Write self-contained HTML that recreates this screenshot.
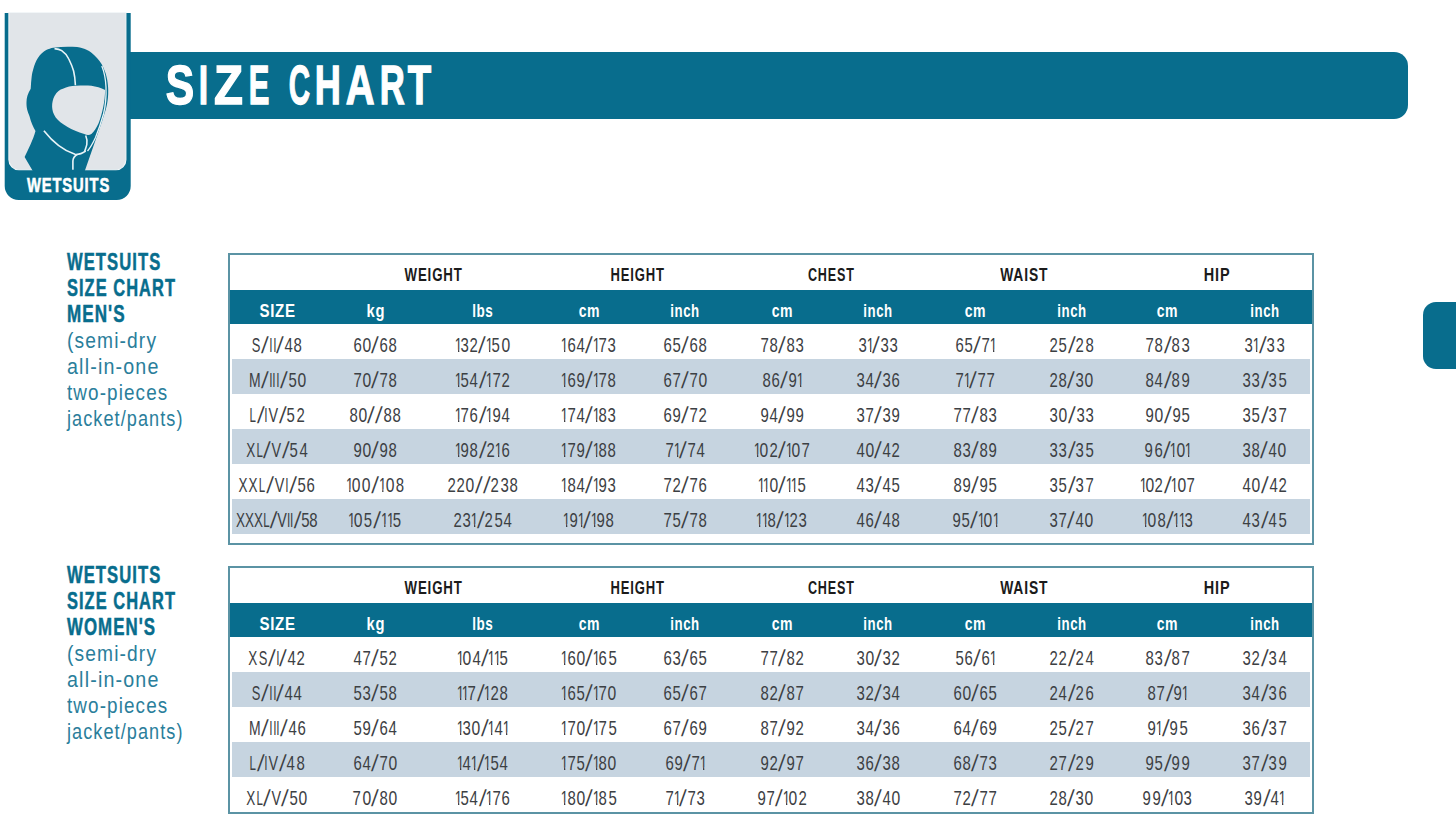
<!DOCTYPE html>
<html><head><meta charset="utf-8"><title>Wetsuits Size Chart</title>
<style>
html,body{margin:0;padding:0;background:#fff;}
body{width:1456px;height:840px;position:relative;overflow:hidden;font-family:"Liberation Sans",sans-serif;}
.t{position:absolute;white-space:nowrap;line-height:1;color:#3c4043;}
.c{position:absolute;white-space:nowrap;line-height:1;font-size:21px;color:#3c4043;}
.c i{display:inline-block;font-style:normal;overflow:visible;}
.banner{position:absolute;left:120px;top:52px;width:1288.2px;height:66.8px;background:#086d8d;border-radius:0 14px 14px 0;}
.tab{position:absolute;left:1422.9px;top:302px;width:60px;height:66.7px;background:#086d8d;border-radius:13px;}
.logo{position:absolute;left:0;top:0;}
.tb{position:absolute;left:228px;width:1086px;box-sizing:border-box;border:2px solid #5b93a4;background:#fff;}
.hd{position:absolute;left:230px;width:1082px;background:#086d8d;}
.gr{position:absolute;left:231.8px;width:1078.6px;background:#c6d4e0;}
</style></head><body>
<div class="banner"></div>
<div class="tab"></div>
<svg class="logo" width="140" height="210" viewBox="0 0 140 210">
<path d="M4.7 13 H130.7 V186 A14 14 0 0 1 116.7 200 H18.7 A14 14 0 0 1 4.7 186 Z" fill="#086d8d"/>
<path d="M8.9 12.5 H125.9 V159.8 A10 10 0 0 1 115.9 169.8 H18.9 A10 10 0 0 1 8.9 159.8 Z" fill="#e1e5e9" stroke="#f2f6f8" stroke-width="1.1"/>
<path d="M53.3 47.7 C62 46.5 70 46.5 77.1 47.1 C85 48.5 90 51 94.3 55.3 C98.5 59.5 101.5 63 103.3 67.4 C105.7 73 106.6 76 107.1 79.3 C107.9 84 108.2 87 108.2 90 C108.3 96 107.8 100 107 104.3 C105.4 112 103.7 116 102.2 121 L84.6 171.5 H33.1 L24.6 157 C28 150 33 140 35.5 131 C33 127 31 122 29.5 116.2 C27.5 111 26.3 108 26.5 102 C26.6 98 27.5 94 30.7 88.8 C31 85 31 83 31.3 80.5 C31.8 76 32 73 33.1 69.8 C34.5 64 36 61 37.9 57.9 C40.5 54 43 52 46.2 50.1 C48.5 49 51 48 53.3 47.7 Z" fill="#086d8d"/>
<path d="M54.5 96 C57 91.5 60 89.5 62.9 88.8 C67 86.8 71 86 76 85.8 C82 85.3 87 85.3 91.4 85.8 C96 86.5 101 88 105.1 90 C105 96 104.5 101 103.3 106.7 C102 113 100.5 118 98.6 123.3 C96.5 128 94 131.5 91.4 134 C89 135.5 86.5 135 84.3 134 C78 132 72 129.5 67.6 126.9 C62 123.5 58 120.5 55.7 117.4 C53 113.5 52.3 110 52.1 106.7 C52 102.5 53 99 54.5 96 Z" fill="#e1e5e9"/>
<path d="M54.5 48.6 C57.5 48.8 60 49.5 61.7 50.7 C65 53 67.5 56 68.8 59 C71 63.5 72.5 67 73.6 71 C74.8 76 75.2 80 75.4 85.2" stroke="#e8f4f8" stroke-width="1.6" fill="none"/>
<path d="M43.9 130.7 C52 141 62 150 75 154.3 C79 155 82 153.5 85.7 151" stroke="#e8f4f8" stroke-width="1.6" fill="none"/>
<path d="M85.7 135.5 C87.2 139 87.3 142 86.8 144.6 C86.2 147 85.5 149 84.6 151.5" stroke="#e8f4f8" stroke-width="1.6" fill="none"/>
<path d="M77.5 154.3 C74.5 156 73 158 72.9 161 V169.8" stroke="#e8f4f8" stroke-width="1.6" fill="none"/>
<path d="M101.8 66 C104.3 72 105.6 79 106 87 C106.4 97 105.5 106 103.5 114 C101.5 121 99 129 95.5 137.5 C93 143 90.5 147.5 87.5 151" stroke="#e8f4f8" stroke-width="1.3" fill="none"/>
</svg>
<div class="tb" style="top:253px;height:292.18px"></div>
<div class="hd" style="top:289.5px;height:34.50px"></div>
<div class="gr" style="top:358.93px;height:34.93px"></div>
<div class="gr" style="top:428.79px;height:34.93px"></div>
<div class="gr" style="top:498.65px;height:34.93px"></div>
<div class="t" style="left:393.30px;top:266.25px;font-size:18.6px;font-weight:bold;color:#1b1b1b;letter-spacing:1.2px;transform:scaleX(0.7127);transform-origin:40.20px 0;">WEIGHT</div>
<div class="t" style="left:599.17px;top:266.25px;font-size:18.6px;font-weight:bold;color:#1b1b1b;letter-spacing:1.2px;transform:scaleX(0.7015);transform-origin:38.13px 0;">HEIGHT</div>
<div class="t" style="left:796.57px;top:266.25px;font-size:18.6px;font-weight:bold;color:#1b1b1b;letter-spacing:1.2px;transform:scaleX(0.6779);transform-origin:33.93px 0;">CHEST</div>
<div class="t" style="left:991.64px;top:266.25px;font-size:18.6px;font-weight:bold;color:#1b1b1b;letter-spacing:1.2px;transform:scaleX(0.7439);transform-origin:31.86px 0;">WAIST</div>
<div class="t" style="left:1199.89px;top:266.25px;font-size:18.6px;font-weight:bold;color:#1b1b1b;letter-spacing:1.2px;transform:scaleX(0.7781);transform-origin:16.71px 0;">HIP</div>
<div class="t" style="left:254.69px;top:300.81px;font-size:19.0px;font-weight:bold;color:#ffffff;letter-spacing:0.8px;transform:scaleX(0.7932);transform-origin:22.31px 0;">SIZE</div>
<div class="t" style="left:363.51px;top:300.81px;font-size:19.0px;font-weight:bold;color:#ffffff;letter-spacing:0.8px;transform:scaleX(0.7745);transform-origin:11.49px 0;">kg</div>
<div class="t" style="left:467.97px;top:300.81px;font-size:19.0px;font-weight:bold;color:#ffffff;letter-spacing:0.8px;transform:scaleX(0.7090);transform-origin:14.53px 0;">lbs</div>
<div class="t" style="left:574.87px;top:300.81px;font-size:19.0px;font-weight:bold;color:#ffffff;letter-spacing:0.8px;transform:scaleX(0.7397);transform-origin:14.13px 0;">cm</div>
<div class="t" style="left:664.28px;top:300.81px;font-size:19.0px;font-weight:bold;color:#ffffff;letter-spacing:0.8px;transform:scaleX(0.6973);transform-origin:20.72px 0;">inch</div>
<div class="t" style="left:767.87px;top:300.81px;font-size:19.0px;font-weight:bold;color:#ffffff;letter-spacing:0.8px;transform:scaleX(0.7397);transform-origin:14.13px 0;">cm</div>
<div class="t" style="left:857.28px;top:300.81px;font-size:19.0px;font-weight:bold;color:#ffffff;letter-spacing:0.8px;transform:scaleX(0.6973);transform-origin:20.72px 0;">inch</div>
<div class="t" style="left:960.87px;top:300.81px;font-size:19.0px;font-weight:bold;color:#ffffff;letter-spacing:0.8px;transform:scaleX(0.7397);transform-origin:14.13px 0;">cm</div>
<div class="t" style="left:1050.78px;top:300.81px;font-size:19.0px;font-weight:bold;color:#ffffff;letter-spacing:0.8px;transform:scaleX(0.6973);transform-origin:20.72px 0;">inch</div>
<div class="t" style="left:1153.37px;top:300.81px;font-size:19.0px;font-weight:bold;color:#ffffff;letter-spacing:0.8px;transform:scaleX(0.7397);transform-origin:14.13px 0;">cm</div>
<div class="t" style="left:1243.78px;top:300.81px;font-size:19.0px;font-weight:bold;color:#ffffff;letter-spacing:0.8px;transform:scaleX(0.6973);transform-origin:20.72px 0;">inch</div>
<div class="c" style="left:251.40px;top:334.22px"><i style="width:10.0px;text-indent:-2.01px;transform:scaleX(0.614)">S</i><i style="width:7.7px;text-indent:0.91px;transform:scaleY(1.1) skewX(-7deg)">/</i><i style="width:3.7px;text-indent:-1.06px;transform:scaleX(0.566)">I</i><i style="width:3.7px;text-indent:-1.06px;transform:scaleX(0.566)">I</i><i style="width:7.7px;text-indent:0.91px;transform:scaleY(1.1) skewX(-7deg)">/</i><i style="width:9.2px;text-indent:-1.23px;transform:scaleX(0.712)">4</i><i style="width:9.2px;text-indent:-1.23px;transform:scaleX(0.712)">8</i></div>
<div class="c" style="left:352.55px;top:334.22px"><i style="width:9.2px;text-indent:-1.23px;transform:scaleX(0.712)">6</i><i style="width:9.6px;text-indent:-1.03px;transform:scaleX(0.746)">0</i><i style="width:7.7px;text-indent:0.91px;transform:scaleY(1.1) skewX(-7deg)">/</i><i style="width:9.2px;text-indent:-1.23px;transform:scaleX(0.712)">6</i><i style="width:9.2px;text-indent:-1.23px;transform:scaleX(0.712)">8</i></div>
<div class="c" style="left:454.75px;top:334.22px"><i style="width:5.3px;text-indent:-1.93px;transform:scaleX(0.625);clip-path:polygon(-20px -20px,30px -20px,30px 15.51px,5.31px 15.51px,5.31px 40px,3.25px 40px,3.25px 15.51px,-20px 15.51px)">1</i><i style="width:9.2px;text-indent:-1.23px;transform:scaleX(0.712)">3</i><i style="width:9.2px;text-indent:-1.23px;transform:scaleX(0.712)">2</i><i style="width:7.7px;text-indent:0.91px;transform:scaleY(1.1) skewX(-7deg)">/</i><i style="width:5.3px;text-indent:-1.93px;transform:scaleX(0.625);clip-path:polygon(-20px -20px,30px -20px,30px 15.51px,5.31px 15.51px,5.31px 40px,3.25px 40px,3.25px 15.51px,-20px 15.51px)">1</i><i style="width:9.2px;text-indent:-1.23px;transform:scaleX(0.712)">5</i><i style="width:9.6px;text-indent:-1.03px;transform:scaleX(0.746)">0</i></div>
<div class="c" style="left:561.45px;top:334.22px"><i style="width:5.3px;text-indent:-1.93px;transform:scaleX(0.625);clip-path:polygon(-20px -20px,30px -20px,30px 15.51px,5.31px 15.51px,5.31px 40px,3.25px 40px,3.25px 15.51px,-20px 15.51px)">1</i><i style="width:9.2px;text-indent:-1.23px;transform:scaleX(0.712)">6</i><i style="width:9.2px;text-indent:-1.23px;transform:scaleX(0.712)">4</i><i style="width:7.7px;text-indent:0.91px;transform:scaleY(1.1) skewX(-7deg)">/</i><i style="width:5.3px;text-indent:-1.93px;transform:scaleX(0.625);clip-path:polygon(-20px -20px,30px -20px,30px 15.51px,5.31px 15.51px,5.31px 40px,3.25px 40px,3.25px 15.51px,-20px 15.51px)">1</i><i style="width:9.2px;text-indent:-1.23px;transform:scaleX(0.712)">7</i><i style="width:9.2px;text-indent:-1.23px;transform:scaleX(0.712)">3</i></div>
<div class="c" style="left:662.75px;top:334.22px"><i style="width:9.2px;text-indent:-1.23px;transform:scaleX(0.712)">6</i><i style="width:9.2px;text-indent:-1.23px;transform:scaleX(0.712)">5</i><i style="width:7.7px;text-indent:0.91px;transform:scaleY(1.1) skewX(-7deg)">/</i><i style="width:9.2px;text-indent:-1.23px;transform:scaleX(0.712)">6</i><i style="width:9.2px;text-indent:-1.23px;transform:scaleX(0.712)">8</i></div>
<div class="c" style="left:759.75px;top:334.22px"><i style="width:9.2px;text-indent:-1.23px;transform:scaleX(0.712)">7</i><i style="width:9.2px;text-indent:-1.23px;transform:scaleX(0.712)">8</i><i style="width:7.7px;text-indent:0.91px;transform:scaleY(1.1) skewX(-7deg)">/</i><i style="width:9.2px;text-indent:-1.23px;transform:scaleX(0.712)">8</i><i style="width:9.2px;text-indent:-1.23px;transform:scaleX(0.712)">3</i></div>
<div class="c" style="left:857.70px;top:334.22px"><i style="width:9.2px;text-indent:-1.23px;transform:scaleX(0.712)">3</i><i style="width:5.3px;text-indent:-1.93px;transform:scaleX(0.625);clip-path:polygon(-20px -20px,30px -20px,30px 15.51px,5.31px 15.51px,5.31px 40px,3.25px 40px,3.25px 15.51px,-20px 15.51px)">1</i><i style="width:7.7px;text-indent:0.91px;transform:scaleY(1.1) skewX(-7deg)">/</i><i style="width:9.2px;text-indent:-1.23px;transform:scaleX(0.712)">3</i><i style="width:9.2px;text-indent:-1.23px;transform:scaleX(0.712)">3</i></div>
<div class="c" style="left:954.70px;top:334.22px"><i style="width:9.2px;text-indent:-1.23px;transform:scaleX(0.712)">6</i><i style="width:9.2px;text-indent:-1.23px;transform:scaleX(0.712)">5</i><i style="width:7.7px;text-indent:0.91px;transform:scaleY(1.1) skewX(-7deg)">/</i><i style="width:9.2px;text-indent:-1.23px;transform:scaleX(0.712)">7</i><i style="width:5.3px;text-indent:-1.93px;transform:scaleX(0.625);clip-path:polygon(-20px -20px,30px -20px,30px 15.51px,5.31px 15.51px,5.31px 40px,3.25px 40px,3.25px 15.51px,-20px 15.51px)">1</i></div>
<div class="c" style="left:1049.25px;top:334.22px"><i style="width:9.2px;text-indent:-1.23px;transform:scaleX(0.712)">2</i><i style="width:9.2px;text-indent:-1.23px;transform:scaleX(0.712)">5</i><i style="width:7.7px;text-indent:0.91px;transform:scaleY(1.1) skewX(-7deg)">/</i><i style="width:9.2px;text-indent:-1.23px;transform:scaleX(0.712)">2</i><i style="width:9.2px;text-indent:-1.23px;transform:scaleX(0.712)">8</i></div>
<div class="c" style="left:1145.25px;top:334.22px"><i style="width:9.2px;text-indent:-1.23px;transform:scaleX(0.712)">7</i><i style="width:9.2px;text-indent:-1.23px;transform:scaleX(0.712)">8</i><i style="width:7.7px;text-indent:0.91px;transform:scaleY(1.1) skewX(-7deg)">/</i><i style="width:9.2px;text-indent:-1.23px;transform:scaleX(0.712)">8</i><i style="width:9.2px;text-indent:-1.23px;transform:scaleX(0.712)">3</i></div>
<div class="c" style="left:1244.20px;top:334.22px"><i style="width:9.2px;text-indent:-1.23px;transform:scaleX(0.712)">3</i><i style="width:5.3px;text-indent:-1.93px;transform:scaleX(0.625);clip-path:polygon(-20px -20px,30px -20px,30px 15.51px,5.31px 15.51px,5.31px 40px,3.25px 40px,3.25px 15.51px,-20px 15.51px)">1</i><i style="width:7.7px;text-indent:0.91px;transform:scaleY(1.1) skewX(-7deg)">/</i><i style="width:9.2px;text-indent:-1.23px;transform:scaleX(0.712)">3</i><i style="width:9.2px;text-indent:-1.23px;transform:scaleX(0.712)">3</i></div>
<div class="c" style="left:247.60px;top:369.15px"><i style="width:13.5px;text-indent:-1.99px;transform:scaleX(0.664)">M</i><i style="width:7.7px;text-indent:0.91px;transform:scaleY(1.1) skewX(-7deg)">/</i><i style="width:3.7px;text-indent:-1.06px;transform:scaleX(0.566)">I</i><i style="width:3.7px;text-indent:-1.06px;transform:scaleX(0.566)">I</i><i style="width:3.7px;text-indent:-1.06px;transform:scaleX(0.566)">I</i><i style="width:7.7px;text-indent:0.91px;transform:scaleY(1.1) skewX(-7deg)">/</i><i style="width:9.2px;text-indent:-1.23px;transform:scaleX(0.712)">5</i><i style="width:9.6px;text-indent:-1.03px;transform:scaleX(0.746)">0</i></div>
<div class="c" style="left:352.55px;top:369.15px"><i style="width:9.2px;text-indent:-1.23px;transform:scaleX(0.712)">7</i><i style="width:9.6px;text-indent:-1.03px;transform:scaleX(0.746)">0</i><i style="width:7.7px;text-indent:0.91px;transform:scaleY(1.1) skewX(-7deg)">/</i><i style="width:9.2px;text-indent:-1.23px;transform:scaleX(0.712)">7</i><i style="width:9.2px;text-indent:-1.23px;transform:scaleX(0.712)">8</i></div>
<div class="c" style="left:454.95px;top:369.15px"><i style="width:5.3px;text-indent:-1.93px;transform:scaleX(0.625);clip-path:polygon(-20px -20px,30px -20px,30px 15.51px,5.31px 15.51px,5.31px 40px,3.25px 40px,3.25px 15.51px,-20px 15.51px)">1</i><i style="width:9.2px;text-indent:-1.23px;transform:scaleX(0.712)">5</i><i style="width:9.2px;text-indent:-1.23px;transform:scaleX(0.712)">4</i><i style="width:7.7px;text-indent:0.91px;transform:scaleY(1.1) skewX(-7deg)">/</i><i style="width:5.3px;text-indent:-1.93px;transform:scaleX(0.625);clip-path:polygon(-20px -20px,30px -20px,30px 15.51px,5.31px 15.51px,5.31px 40px,3.25px 40px,3.25px 15.51px,-20px 15.51px)">1</i><i style="width:9.2px;text-indent:-1.23px;transform:scaleX(0.712)">7</i><i style="width:9.2px;text-indent:-1.23px;transform:scaleX(0.712)">2</i></div>
<div class="c" style="left:561.45px;top:369.15px"><i style="width:5.3px;text-indent:-1.93px;transform:scaleX(0.625);clip-path:polygon(-20px -20px,30px -20px,30px 15.51px,5.31px 15.51px,5.31px 40px,3.25px 40px,3.25px 15.51px,-20px 15.51px)">1</i><i style="width:9.2px;text-indent:-1.23px;transform:scaleX(0.712)">6</i><i style="width:9.2px;text-indent:-1.23px;transform:scaleX(0.712)">9</i><i style="width:7.7px;text-indent:0.91px;transform:scaleY(1.1) skewX(-7deg)">/</i><i style="width:5.3px;text-indent:-1.93px;transform:scaleX(0.625);clip-path:polygon(-20px -20px,30px -20px,30px 15.51px,5.31px 15.51px,5.31px 40px,3.25px 40px,3.25px 15.51px,-20px 15.51px)">1</i><i style="width:9.2px;text-indent:-1.23px;transform:scaleX(0.712)">7</i><i style="width:9.2px;text-indent:-1.23px;transform:scaleX(0.712)">8</i></div>
<div class="c" style="left:662.55px;top:369.15px"><i style="width:9.2px;text-indent:-1.23px;transform:scaleX(0.712)">6</i><i style="width:9.2px;text-indent:-1.23px;transform:scaleX(0.712)">7</i><i style="width:7.7px;text-indent:0.91px;transform:scaleY(1.1) skewX(-7deg)">/</i><i style="width:9.2px;text-indent:-1.23px;transform:scaleX(0.712)">7</i><i style="width:9.6px;text-indent:-1.03px;transform:scaleX(0.746)">0</i></div>
<div class="c" style="left:761.70px;top:369.15px"><i style="width:9.2px;text-indent:-1.23px;transform:scaleX(0.712)">8</i><i style="width:9.2px;text-indent:-1.23px;transform:scaleX(0.712)">6</i><i style="width:7.7px;text-indent:0.91px;transform:scaleY(1.1) skewX(-7deg)">/</i><i style="width:9.2px;text-indent:-1.23px;transform:scaleX(0.712)">9</i><i style="width:5.3px;text-indent:-1.93px;transform:scaleX(0.625);clip-path:polygon(-20px -20px,30px -20px,30px 15.51px,5.31px 15.51px,5.31px 40px,3.25px 40px,3.25px 15.51px,-20px 15.51px)">1</i></div>
<div class="c" style="left:855.75px;top:369.15px"><i style="width:9.2px;text-indent:-1.23px;transform:scaleX(0.712)">3</i><i style="width:9.2px;text-indent:-1.23px;transform:scaleX(0.712)">4</i><i style="width:7.7px;text-indent:0.91px;transform:scaleY(1.1) skewX(-7deg)">/</i><i style="width:9.2px;text-indent:-1.23px;transform:scaleX(0.712)">3</i><i style="width:9.2px;text-indent:-1.23px;transform:scaleX(0.712)">6</i></div>
<div class="c" style="left:954.70px;top:369.15px"><i style="width:9.2px;text-indent:-1.23px;transform:scaleX(0.712)">7</i><i style="width:5.3px;text-indent:-1.93px;transform:scaleX(0.625);clip-path:polygon(-20px -20px,30px -20px,30px 15.51px,5.31px 15.51px,5.31px 40px,3.25px 40px,3.25px 15.51px,-20px 15.51px)">1</i><i style="width:7.7px;text-indent:0.91px;transform:scaleY(1.1) skewX(-7deg)">/</i><i style="width:9.2px;text-indent:-1.23px;transform:scaleX(0.712)">7</i><i style="width:9.2px;text-indent:-1.23px;transform:scaleX(0.712)">7</i></div>
<div class="c" style="left:1049.05px;top:369.15px"><i style="width:9.2px;text-indent:-1.23px;transform:scaleX(0.712)">2</i><i style="width:9.2px;text-indent:-1.23px;transform:scaleX(0.712)">8</i><i style="width:7.7px;text-indent:0.91px;transform:scaleY(1.1) skewX(-7deg)">/</i><i style="width:9.2px;text-indent:-1.23px;transform:scaleX(0.712)">3</i><i style="width:9.6px;text-indent:-1.03px;transform:scaleX(0.746)">0</i></div>
<div class="c" style="left:1145.25px;top:369.15px"><i style="width:9.2px;text-indent:-1.23px;transform:scaleX(0.712)">8</i><i style="width:9.2px;text-indent:-1.23px;transform:scaleX(0.712)">4</i><i style="width:7.7px;text-indent:0.91px;transform:scaleY(1.1) skewX(-7deg)">/</i><i style="width:9.2px;text-indent:-1.23px;transform:scaleX(0.712)">8</i><i style="width:9.2px;text-indent:-1.23px;transform:scaleX(0.712)">9</i></div>
<div class="c" style="left:1242.25px;top:369.15px"><i style="width:9.2px;text-indent:-1.23px;transform:scaleX(0.712)">3</i><i style="width:9.2px;text-indent:-1.23px;transform:scaleX(0.712)">3</i><i style="width:7.7px;text-indent:0.91px;transform:scaleY(1.1) skewX(-7deg)">/</i><i style="width:9.2px;text-indent:-1.23px;transform:scaleX(0.712)">3</i><i style="width:9.2px;text-indent:-1.23px;transform:scaleX(0.712)">5</i></div>
<div class="c" style="left:249.15px;top:404.08px"><i style="width:7.4px;text-indent:-2.13px;transform:scaleX(0.549)">L</i><i style="width:7.7px;text-indent:0.91px;transform:scaleY(1.1) skewX(-7deg)">/</i><i style="width:3.7px;text-indent:-1.06px;transform:scaleX(0.566)">I</i><i style="width:10.8px;text-indent:-1.61px;transform:scaleX(0.685)">V</i><i style="width:7.7px;text-indent:0.91px;transform:scaleY(1.1) skewX(-7deg)">/</i><i style="width:9.2px;text-indent:-1.23px;transform:scaleX(0.712)">5</i><i style="width:9.2px;text-indent:-1.23px;transform:scaleX(0.712)">2</i></div>
<div class="c" style="left:348.70px;top:404.08px"><i style="width:9.2px;text-indent:-1.23px;transform:scaleX(0.712)">8</i><i style="width:9.6px;text-indent:-1.03px;transform:scaleX(0.746)">0</i><i style="width:7.7px;text-indent:0.91px;transform:scaleY(1.1) skewX(-7deg)">/</i><i style="width:7.7px;text-indent:0.91px;transform:scaleY(1.1) skewX(-7deg)">/</i><i style="width:9.2px;text-indent:-1.23px;transform:scaleX(0.712)">8</i><i style="width:9.2px;text-indent:-1.23px;transform:scaleX(0.712)">8</i></div>
<div class="c" style="left:454.95px;top:404.08px"><i style="width:5.3px;text-indent:-1.93px;transform:scaleX(0.625);clip-path:polygon(-20px -20px,30px -20px,30px 15.51px,5.31px 15.51px,5.31px 40px,3.25px 40px,3.25px 15.51px,-20px 15.51px)">1</i><i style="width:9.2px;text-indent:-1.23px;transform:scaleX(0.712)">7</i><i style="width:9.2px;text-indent:-1.23px;transform:scaleX(0.712)">6</i><i style="width:7.7px;text-indent:0.91px;transform:scaleY(1.1) skewX(-7deg)">/</i><i style="width:5.3px;text-indent:-1.93px;transform:scaleX(0.625);clip-path:polygon(-20px -20px,30px -20px,30px 15.51px,5.31px 15.51px,5.31px 40px,3.25px 40px,3.25px 15.51px,-20px 15.51px)">1</i><i style="width:9.2px;text-indent:-1.23px;transform:scaleX(0.712)">9</i><i style="width:9.2px;text-indent:-1.23px;transform:scaleX(0.712)">4</i></div>
<div class="c" style="left:561.45px;top:404.08px"><i style="width:5.3px;text-indent:-1.93px;transform:scaleX(0.625);clip-path:polygon(-20px -20px,30px -20px,30px 15.51px,5.31px 15.51px,5.31px 40px,3.25px 40px,3.25px 15.51px,-20px 15.51px)">1</i><i style="width:9.2px;text-indent:-1.23px;transform:scaleX(0.712)">7</i><i style="width:9.2px;text-indent:-1.23px;transform:scaleX(0.712)">4</i><i style="width:7.7px;text-indent:0.91px;transform:scaleY(1.1) skewX(-7deg)">/</i><i style="width:5.3px;text-indent:-1.93px;transform:scaleX(0.625);clip-path:polygon(-20px -20px,30px -20px,30px 15.51px,5.31px 15.51px,5.31px 40px,3.25px 40px,3.25px 15.51px,-20px 15.51px)">1</i><i style="width:9.2px;text-indent:-1.23px;transform:scaleX(0.712)">8</i><i style="width:9.2px;text-indent:-1.23px;transform:scaleX(0.712)">3</i></div>
<div class="c" style="left:662.75px;top:404.08px"><i style="width:9.2px;text-indent:-1.23px;transform:scaleX(0.712)">6</i><i style="width:9.2px;text-indent:-1.23px;transform:scaleX(0.712)">9</i><i style="width:7.7px;text-indent:0.91px;transform:scaleY(1.1) skewX(-7deg)">/</i><i style="width:9.2px;text-indent:-1.23px;transform:scaleX(0.712)">7</i><i style="width:9.2px;text-indent:-1.23px;transform:scaleX(0.712)">2</i></div>
<div class="c" style="left:759.75px;top:404.08px"><i style="width:9.2px;text-indent:-1.23px;transform:scaleX(0.712)">9</i><i style="width:9.2px;text-indent:-1.23px;transform:scaleX(0.712)">4</i><i style="width:7.7px;text-indent:0.91px;transform:scaleY(1.1) skewX(-7deg)">/</i><i style="width:9.2px;text-indent:-1.23px;transform:scaleX(0.712)">9</i><i style="width:9.2px;text-indent:-1.23px;transform:scaleX(0.712)">9</i></div>
<div class="c" style="left:855.75px;top:404.08px"><i style="width:9.2px;text-indent:-1.23px;transform:scaleX(0.712)">3</i><i style="width:9.2px;text-indent:-1.23px;transform:scaleX(0.712)">7</i><i style="width:7.7px;text-indent:0.91px;transform:scaleY(1.1) skewX(-7deg)">/</i><i style="width:9.2px;text-indent:-1.23px;transform:scaleX(0.712)">3</i><i style="width:9.2px;text-indent:-1.23px;transform:scaleX(0.712)">9</i></div>
<div class="c" style="left:952.75px;top:404.08px"><i style="width:9.2px;text-indent:-1.23px;transform:scaleX(0.712)">7</i><i style="width:9.2px;text-indent:-1.23px;transform:scaleX(0.712)">7</i><i style="width:7.7px;text-indent:0.91px;transform:scaleY(1.1) skewX(-7deg)">/</i><i style="width:9.2px;text-indent:-1.23px;transform:scaleX(0.712)">8</i><i style="width:9.2px;text-indent:-1.23px;transform:scaleX(0.712)">3</i></div>
<div class="c" style="left:1049.05px;top:404.08px"><i style="width:9.2px;text-indent:-1.23px;transform:scaleX(0.712)">3</i><i style="width:9.6px;text-indent:-1.03px;transform:scaleX(0.746)">0</i><i style="width:7.7px;text-indent:0.91px;transform:scaleY(1.1) skewX(-7deg)">/</i><i style="width:9.2px;text-indent:-1.23px;transform:scaleX(0.712)">3</i><i style="width:9.2px;text-indent:-1.23px;transform:scaleX(0.712)">3</i></div>
<div class="c" style="left:1145.05px;top:404.08px"><i style="width:9.2px;text-indent:-1.23px;transform:scaleX(0.712)">9</i><i style="width:9.6px;text-indent:-1.03px;transform:scaleX(0.746)">0</i><i style="width:7.7px;text-indent:0.91px;transform:scaleY(1.1) skewX(-7deg)">/</i><i style="width:9.2px;text-indent:-1.23px;transform:scaleX(0.712)">9</i><i style="width:9.2px;text-indent:-1.23px;transform:scaleX(0.712)">5</i></div>
<div class="c" style="left:1242.25px;top:404.08px"><i style="width:9.2px;text-indent:-1.23px;transform:scaleX(0.712)">3</i><i style="width:9.2px;text-indent:-1.23px;transform:scaleX(0.712)">5</i><i style="width:7.7px;text-indent:0.91px;transform:scaleY(1.1) skewX(-7deg)">/</i><i style="width:9.2px;text-indent:-1.23px;transform:scaleX(0.712)">3</i><i style="width:9.2px;text-indent:-1.23px;transform:scaleX(0.712)">7</i></div>
<div class="c" style="left:246.20px;top:439.01px"><i style="width:9.6px;text-indent:-2.21px;transform:scaleX(0.642)">X</i><i style="width:7.4px;text-indent:-2.13px;transform:scaleX(0.549)">L</i><i style="width:7.7px;text-indent:0.91px;transform:scaleY(1.1) skewX(-7deg)">/</i><i style="width:10.8px;text-indent:-1.61px;transform:scaleX(0.685)">V</i><i style="width:7.7px;text-indent:0.91px;transform:scaleY(1.1) skewX(-7deg)">/</i><i style="width:9.2px;text-indent:-1.23px;transform:scaleX(0.712)">5</i><i style="width:9.2px;text-indent:-1.23px;transform:scaleX(0.712)">4</i></div>
<div class="c" style="left:352.55px;top:439.01px"><i style="width:9.2px;text-indent:-1.23px;transform:scaleX(0.712)">9</i><i style="width:9.6px;text-indent:-1.03px;transform:scaleX(0.746)">0</i><i style="width:7.7px;text-indent:0.91px;transform:scaleY(1.1) skewX(-7deg)">/</i><i style="width:9.2px;text-indent:-1.23px;transform:scaleX(0.712)">9</i><i style="width:9.2px;text-indent:-1.23px;transform:scaleX(0.712)">8</i></div>
<div class="c" style="left:454.95px;top:439.01px"><i style="width:5.3px;text-indent:-1.93px;transform:scaleX(0.625);clip-path:polygon(-20px -20px,30px -20px,30px 15.51px,5.31px 15.51px,5.31px 40px,3.25px 40px,3.25px 15.51px,-20px 15.51px)">1</i><i style="width:9.2px;text-indent:-1.23px;transform:scaleX(0.712)">9</i><i style="width:9.2px;text-indent:-1.23px;transform:scaleX(0.712)">8</i><i style="width:7.7px;text-indent:0.91px;transform:scaleY(1.1) skewX(-7deg)">/</i><i style="width:9.2px;text-indent:-1.23px;transform:scaleX(0.712)">2</i><i style="width:5.3px;text-indent:-1.93px;transform:scaleX(0.625);clip-path:polygon(-20px -20px,30px -20px,30px 15.51px,5.31px 15.51px,5.31px 40px,3.25px 40px,3.25px 15.51px,-20px 15.51px)">1</i><i style="width:9.2px;text-indent:-1.23px;transform:scaleX(0.712)">6</i></div>
<div class="c" style="left:561.45px;top:439.01px"><i style="width:5.3px;text-indent:-1.93px;transform:scaleX(0.625);clip-path:polygon(-20px -20px,30px -20px,30px 15.51px,5.31px 15.51px,5.31px 40px,3.25px 40px,3.25px 15.51px,-20px 15.51px)">1</i><i style="width:9.2px;text-indent:-1.23px;transform:scaleX(0.712)">7</i><i style="width:9.2px;text-indent:-1.23px;transform:scaleX(0.712)">9</i><i style="width:7.7px;text-indent:0.91px;transform:scaleY(1.1) skewX(-7deg)">/</i><i style="width:5.3px;text-indent:-1.93px;transform:scaleX(0.625);clip-path:polygon(-20px -20px,30px -20px,30px 15.51px,5.31px 15.51px,5.31px 40px,3.25px 40px,3.25px 15.51px,-20px 15.51px)">1</i><i style="width:9.2px;text-indent:-1.23px;transform:scaleX(0.712)">8</i><i style="width:9.2px;text-indent:-1.23px;transform:scaleX(0.712)">8</i></div>
<div class="c" style="left:664.70px;top:439.01px"><i style="width:9.2px;text-indent:-1.23px;transform:scaleX(0.712)">7</i><i style="width:5.3px;text-indent:-1.93px;transform:scaleX(0.625);clip-path:polygon(-20px -20px,30px -20px,30px 15.51px,5.31px 15.51px,5.31px 40px,3.25px 40px,3.25px 15.51px,-20px 15.51px)">1</i><i style="width:7.7px;text-indent:0.91px;transform:scaleY(1.1) skewX(-7deg)">/</i><i style="width:9.2px;text-indent:-1.23px;transform:scaleX(0.712)">7</i><i style="width:9.2px;text-indent:-1.23px;transform:scaleX(0.712)">4</i></div>
<div class="c" style="left:754.05px;top:439.01px"><i style="width:5.3px;text-indent:-1.93px;transform:scaleX(0.625);clip-path:polygon(-20px -20px,30px -20px,30px 15.51px,5.31px 15.51px,5.31px 40px,3.25px 40px,3.25px 15.51px,-20px 15.51px)">1</i><i style="width:9.6px;text-indent:-1.03px;transform:scaleX(0.746)">0</i><i style="width:9.2px;text-indent:-1.23px;transform:scaleX(0.712)">2</i><i style="width:7.7px;text-indent:0.91px;transform:scaleY(1.1) skewX(-7deg)">/</i><i style="width:5.3px;text-indent:-1.93px;transform:scaleX(0.625);clip-path:polygon(-20px -20px,30px -20px,30px 15.51px,5.31px 15.51px,5.31px 40px,3.25px 40px,3.25px 15.51px,-20px 15.51px)">1</i><i style="width:9.6px;text-indent:-1.03px;transform:scaleX(0.746)">0</i><i style="width:9.2px;text-indent:-1.23px;transform:scaleX(0.712)">7</i></div>
<div class="c" style="left:855.55px;top:439.01px"><i style="width:9.2px;text-indent:-1.23px;transform:scaleX(0.712)">4</i><i style="width:9.6px;text-indent:-1.03px;transform:scaleX(0.746)">0</i><i style="width:7.7px;text-indent:0.91px;transform:scaleY(1.1) skewX(-7deg)">/</i><i style="width:9.2px;text-indent:-1.23px;transform:scaleX(0.712)">4</i><i style="width:9.2px;text-indent:-1.23px;transform:scaleX(0.712)">2</i></div>
<div class="c" style="left:952.75px;top:439.01px"><i style="width:9.2px;text-indent:-1.23px;transform:scaleX(0.712)">8</i><i style="width:9.2px;text-indent:-1.23px;transform:scaleX(0.712)">3</i><i style="width:7.7px;text-indent:0.91px;transform:scaleY(1.1) skewX(-7deg)">/</i><i style="width:9.2px;text-indent:-1.23px;transform:scaleX(0.712)">8</i><i style="width:9.2px;text-indent:-1.23px;transform:scaleX(0.712)">9</i></div>
<div class="c" style="left:1049.25px;top:439.01px"><i style="width:9.2px;text-indent:-1.23px;transform:scaleX(0.712)">3</i><i style="width:9.2px;text-indent:-1.23px;transform:scaleX(0.712)">3</i><i style="width:7.7px;text-indent:0.91px;transform:scaleY(1.1) skewX(-7deg)">/</i><i style="width:9.2px;text-indent:-1.23px;transform:scaleX(0.712)">3</i><i style="width:9.2px;text-indent:-1.23px;transform:scaleX(0.712)">5</i></div>
<div class="c" style="left:1144.35px;top:439.01px"><i style="width:9.2px;text-indent:-1.23px;transform:scaleX(0.712)">9</i><i style="width:9.2px;text-indent:-1.23px;transform:scaleX(0.712)">6</i><i style="width:7.7px;text-indent:0.91px;transform:scaleY(1.1) skewX(-7deg)">/</i><i style="width:5.3px;text-indent:-1.93px;transform:scaleX(0.625);clip-path:polygon(-20px -20px,30px -20px,30px 15.51px,5.31px 15.51px,5.31px 40px,3.25px 40px,3.25px 15.51px,-20px 15.51px)">1</i><i style="width:9.6px;text-indent:-1.03px;transform:scaleX(0.746)">0</i><i style="width:5.3px;text-indent:-1.93px;transform:scaleX(0.625);clip-path:polygon(-20px -20px,30px -20px,30px 15.51px,5.31px 15.51px,5.31px 40px,3.25px 40px,3.25px 15.51px,-20px 15.51px)">1</i></div>
<div class="c" style="left:1242.05px;top:439.01px"><i style="width:9.2px;text-indent:-1.23px;transform:scaleX(0.712)">3</i><i style="width:9.2px;text-indent:-1.23px;transform:scaleX(0.712)">8</i><i style="width:7.7px;text-indent:0.91px;transform:scaleY(1.1) skewX(-7deg)">/</i><i style="width:9.2px;text-indent:-1.23px;transform:scaleX(0.712)">4</i><i style="width:9.6px;text-indent:-1.03px;transform:scaleX(0.746)">0</i></div>
<div class="c" style="left:238.15px;top:473.94px"><i style="width:10.0px;text-indent:-2.03px;transform:scaleX(0.642)">X</i><i style="width:10.0px;text-indent:-2.03px;transform:scaleX(0.642)">X</i><i style="width:7.7px;text-indent:-1.99px;transform:scaleX(0.549)">L</i><i style="width:8.0px;text-indent:1.05px;transform:scaleY(1.1) skewX(-7deg)">/</i><i style="width:11.2px;text-indent:-1.41px;transform:scaleX(0.685)">V</i><i style="width:3.8px;text-indent:-0.99px;transform:scaleX(0.566)">I</i><i style="width:8.0px;text-indent:1.05px;transform:scaleY(1.1) skewX(-7deg)">/</i><i style="width:9.5px;text-indent:-1.06px;transform:scaleX(0.712)">5</i><i style="width:9.5px;text-indent:-1.06px;transform:scaleX(0.712)">6</i></div>
<div class="c" style="left:345.50px;top:473.94px"><i style="width:5.6px;text-indent:-1.80px;transform:scaleX(0.625);clip-path:polygon(-20px -20px,30px -20px,30px 15.51px,5.44px 15.51px,5.44px 40px,3.38px 40px,3.38px 15.51px,-20px 15.51px)">1</i><i style="width:10.1px;text-indent:-0.80px;transform:scaleX(0.746)">0</i><i style="width:10.1px;text-indent:-0.80px;transform:scaleX(0.746)">0</i><i style="width:8.1px;text-indent:1.09px;transform:scaleY(1.1) skewX(-7deg)">/</i><i style="width:5.6px;text-indent:-1.80px;transform:scaleX(0.625);clip-path:polygon(-20px -20px,30px -20px,30px 15.51px,5.44px 15.51px,5.44px 40px,3.38px 40px,3.38px 15.51px,-20px 15.51px)">1</i><i style="width:10.1px;text-indent:-0.80px;transform:scaleX(0.746)">0</i><i style="width:9.6px;text-indent:-1.01px;transform:scaleX(0.712)">8</i></div>
<div class="c" style="left:447.00px;top:473.94px"><i style="width:9.2px;text-indent:-1.23px;transform:scaleX(0.712)">2</i><i style="width:9.2px;text-indent:-1.23px;transform:scaleX(0.712)">2</i><i style="width:9.6px;text-indent:-1.03px;transform:scaleX(0.746)">0</i><i style="width:7.7px;text-indent:0.91px;transform:scaleY(1.1) skewX(-7deg)">/</i><i style="width:7.7px;text-indent:0.91px;transform:scaleY(1.1) skewX(-7deg)">/</i><i style="width:9.2px;text-indent:-1.23px;transform:scaleX(0.712)">2</i><i style="width:9.2px;text-indent:-1.23px;transform:scaleX(0.712)">3</i><i style="width:9.2px;text-indent:-1.23px;transform:scaleX(0.712)">8</i></div>
<div class="c" style="left:561.45px;top:473.94px"><i style="width:5.3px;text-indent:-1.93px;transform:scaleX(0.625);clip-path:polygon(-20px -20px,30px -20px,30px 15.51px,5.31px 15.51px,5.31px 40px,3.25px 40px,3.25px 15.51px,-20px 15.51px)">1</i><i style="width:9.2px;text-indent:-1.23px;transform:scaleX(0.712)">8</i><i style="width:9.2px;text-indent:-1.23px;transform:scaleX(0.712)">4</i><i style="width:7.7px;text-indent:0.91px;transform:scaleY(1.1) skewX(-7deg)">/</i><i style="width:5.3px;text-indent:-1.93px;transform:scaleX(0.625);clip-path:polygon(-20px -20px,30px -20px,30px 15.51px,5.31px 15.51px,5.31px 40px,3.25px 40px,3.25px 15.51px,-20px 15.51px)">1</i><i style="width:9.2px;text-indent:-1.23px;transform:scaleX(0.712)">9</i><i style="width:9.2px;text-indent:-1.23px;transform:scaleX(0.712)">3</i></div>
<div class="c" style="left:662.75px;top:473.94px"><i style="width:9.2px;text-indent:-1.23px;transform:scaleX(0.712)">7</i><i style="width:9.2px;text-indent:-1.23px;transform:scaleX(0.712)">2</i><i style="width:7.7px;text-indent:0.91px;transform:scaleY(1.1) skewX(-7deg)">/</i><i style="width:9.2px;text-indent:-1.23px;transform:scaleX(0.712)">7</i><i style="width:9.2px;text-indent:-1.23px;transform:scaleX(0.712)">6</i></div>
<div class="c" style="left:758.15px;top:473.94px"><i style="width:5.3px;text-indent:-1.93px;transform:scaleX(0.625);clip-path:polygon(-20px -20px,30px -20px,30px 15.51px,5.31px 15.51px,5.31px 40px,3.25px 40px,3.25px 15.51px,-20px 15.51px)">1</i><i style="width:5.3px;text-indent:-1.93px;transform:scaleX(0.625);clip-path:polygon(-20px -20px,30px -20px,30px 15.51px,5.31px 15.51px,5.31px 40px,3.25px 40px,3.25px 15.51px,-20px 15.51px)">1</i><i style="width:9.6px;text-indent:-1.03px;transform:scaleX(0.746)">0</i><i style="width:7.7px;text-indent:0.91px;transform:scaleY(1.1) skewX(-7deg)">/</i><i style="width:5.3px;text-indent:-1.93px;transform:scaleX(0.625);clip-path:polygon(-20px -20px,30px -20px,30px 15.51px,5.31px 15.51px,5.31px 40px,3.25px 40px,3.25px 15.51px,-20px 15.51px)">1</i><i style="width:5.3px;text-indent:-1.93px;transform:scaleX(0.625);clip-path:polygon(-20px -20px,30px -20px,30px 15.51px,5.31px 15.51px,5.31px 40px,3.25px 40px,3.25px 15.51px,-20px 15.51px)">1</i><i style="width:9.2px;text-indent:-1.23px;transform:scaleX(0.712)">5</i></div>
<div class="c" style="left:855.75px;top:473.94px"><i style="width:9.2px;text-indent:-1.23px;transform:scaleX(0.712)">4</i><i style="width:9.2px;text-indent:-1.23px;transform:scaleX(0.712)">3</i><i style="width:7.7px;text-indent:0.91px;transform:scaleY(1.1) skewX(-7deg)">/</i><i style="width:9.2px;text-indent:-1.23px;transform:scaleX(0.712)">4</i><i style="width:9.2px;text-indent:-1.23px;transform:scaleX(0.712)">5</i></div>
<div class="c" style="left:952.75px;top:473.94px"><i style="width:9.2px;text-indent:-1.23px;transform:scaleX(0.712)">8</i><i style="width:9.2px;text-indent:-1.23px;transform:scaleX(0.712)">9</i><i style="width:7.7px;text-indent:0.91px;transform:scaleY(1.1) skewX(-7deg)">/</i><i style="width:9.2px;text-indent:-1.23px;transform:scaleX(0.712)">9</i><i style="width:9.2px;text-indent:-1.23px;transform:scaleX(0.712)">5</i></div>
<div class="c" style="left:1049.25px;top:473.94px"><i style="width:9.2px;text-indent:-1.23px;transform:scaleX(0.712)">3</i><i style="width:9.2px;text-indent:-1.23px;transform:scaleX(0.712)">5</i><i style="width:7.7px;text-indent:0.91px;transform:scaleY(1.1) skewX(-7deg)">/</i><i style="width:9.2px;text-indent:-1.23px;transform:scaleX(0.712)">3</i><i style="width:9.2px;text-indent:-1.23px;transform:scaleX(0.712)">7</i></div>
<div class="c" style="left:1139.55px;top:473.94px"><i style="width:5.3px;text-indent:-1.93px;transform:scaleX(0.625);clip-path:polygon(-20px -20px,30px -20px,30px 15.51px,5.31px 15.51px,5.31px 40px,3.25px 40px,3.25px 15.51px,-20px 15.51px)">1</i><i style="width:9.6px;text-indent:-1.03px;transform:scaleX(0.746)">0</i><i style="width:9.2px;text-indent:-1.23px;transform:scaleX(0.712)">2</i><i style="width:7.7px;text-indent:0.91px;transform:scaleY(1.1) skewX(-7deg)">/</i><i style="width:5.3px;text-indent:-1.93px;transform:scaleX(0.625);clip-path:polygon(-20px -20px,30px -20px,30px 15.51px,5.31px 15.51px,5.31px 40px,3.25px 40px,3.25px 15.51px,-20px 15.51px)">1</i><i style="width:9.6px;text-indent:-1.03px;transform:scaleX(0.746)">0</i><i style="width:9.2px;text-indent:-1.23px;transform:scaleX(0.712)">7</i></div>
<div class="c" style="left:1242.05px;top:473.94px"><i style="width:9.2px;text-indent:-1.23px;transform:scaleX(0.712)">4</i><i style="width:9.6px;text-indent:-1.03px;transform:scaleX(0.746)">0</i><i style="width:7.7px;text-indent:0.91px;transform:scaleY(1.1) skewX(-7deg)">/</i><i style="width:9.2px;text-indent:-1.23px;transform:scaleX(0.712)">4</i><i style="width:9.2px;text-indent:-1.23px;transform:scaleX(0.712)">2</i></div>
<div class="c" style="left:236.00px;top:508.87px"><i style="width:8.9px;text-indent:-2.55px;transform:scaleX(0.642)">X</i><i style="width:8.9px;text-indent:-2.55px;transform:scaleX(0.642)">X</i><i style="width:8.9px;text-indent:-2.55px;transform:scaleX(0.642)">X</i><i style="width:6.9px;text-indent:-2.39px;transform:scaleX(0.549)">L</i><i style="width:7.2px;text-indent:0.64px;transform:scaleY(1.1) skewX(-7deg)">/</i><i style="width:10.0px;text-indent:-1.99px;transform:scaleX(0.685)">V</i><i style="width:3.4px;text-indent:-1.19px;transform:scaleX(0.566)">I</i><i style="width:3.4px;text-indent:-1.19px;transform:scaleX(0.566)">I</i><i style="width:7.2px;text-indent:0.64px;transform:scaleY(1.1) skewX(-7deg)">/</i><i style="width:8.6px;text-indent:-1.55px;transform:scaleX(0.712)">5</i><i style="width:8.6px;text-indent:-1.55px;transform:scaleX(0.712)">8</i></div>
<div class="c" style="left:347.75px;top:508.87px"><i style="width:5.6px;text-indent:-1.78px;transform:scaleX(0.625);clip-path:polygon(-20px -20px,30px -20px,30px 15.51px,5.46px 15.51px,5.46px 40px,3.40px 40px,3.40px 15.51px,-20px 15.51px)">1</i><i style="width:10.1px;text-indent:-0.76px;transform:scaleX(0.746)">0</i><i style="width:9.7px;text-indent:-0.97px;transform:scaleX(0.712)">5</i><i style="width:8.1px;text-indent:1.13px;transform:scaleY(1.1) skewX(-7deg)">/</i><i style="width:5.6px;text-indent:-1.78px;transform:scaleX(0.625);clip-path:polygon(-20px -20px,30px -20px,30px 15.51px,5.46px 15.51px,5.46px 40px,3.40px 40px,3.40px 15.51px,-20px 15.51px)">1</i><i style="width:5.6px;text-indent:-1.78px;transform:scaleX(0.625);clip-path:polygon(-20px -20px,30px -20px,30px 15.51px,5.46px 15.51px,5.46px 40px,3.40px 40px,3.40px 15.51px,-20px 15.51px)">1</i><i style="width:9.7px;text-indent:-0.97px;transform:scaleX(0.712)">5</i></div>
<div class="c" style="left:453.00px;top:508.87px"><i style="width:9.2px;text-indent:-1.23px;transform:scaleX(0.712)">2</i><i style="width:9.2px;text-indent:-1.23px;transform:scaleX(0.712)">3</i><i style="width:5.3px;text-indent:-1.93px;transform:scaleX(0.625);clip-path:polygon(-20px -20px,30px -20px,30px 15.51px,5.31px 15.51px,5.31px 40px,3.25px 40px,3.25px 15.51px,-20px 15.51px)">1</i><i style="width:7.7px;text-indent:0.91px;transform:scaleY(1.1) skewX(-7deg)">/</i><i style="width:9.2px;text-indent:-1.23px;transform:scaleX(0.712)">2</i><i style="width:9.2px;text-indent:-1.23px;transform:scaleX(0.712)">5</i><i style="width:9.2px;text-indent:-1.23px;transform:scaleX(0.712)">4</i></div>
<div class="c" style="left:563.40px;top:508.87px"><i style="width:5.3px;text-indent:-1.93px;transform:scaleX(0.625);clip-path:polygon(-20px -20px,30px -20px,30px 15.51px,5.31px 15.51px,5.31px 40px,3.25px 40px,3.25px 15.51px,-20px 15.51px)">1</i><i style="width:9.2px;text-indent:-1.23px;transform:scaleX(0.712)">9</i><i style="width:5.3px;text-indent:-1.93px;transform:scaleX(0.625);clip-path:polygon(-20px -20px,30px -20px,30px 15.51px,5.31px 15.51px,5.31px 40px,3.25px 40px,3.25px 15.51px,-20px 15.51px)">1</i><i style="width:7.7px;text-indent:0.91px;transform:scaleY(1.1) skewX(-7deg)">/</i><i style="width:5.3px;text-indent:-1.93px;transform:scaleX(0.625);clip-path:polygon(-20px -20px,30px -20px,30px 15.51px,5.31px 15.51px,5.31px 40px,3.25px 40px,3.25px 15.51px,-20px 15.51px)">1</i><i style="width:9.2px;text-indent:-1.23px;transform:scaleX(0.712)">9</i><i style="width:9.2px;text-indent:-1.23px;transform:scaleX(0.712)">8</i></div>
<div class="c" style="left:662.75px;top:508.87px"><i style="width:9.2px;text-indent:-1.23px;transform:scaleX(0.712)">7</i><i style="width:9.2px;text-indent:-1.23px;transform:scaleX(0.712)">5</i><i style="width:7.7px;text-indent:0.91px;transform:scaleY(1.1) skewX(-7deg)">/</i><i style="width:9.2px;text-indent:-1.23px;transform:scaleX(0.712)">7</i><i style="width:9.2px;text-indent:-1.23px;transform:scaleX(0.712)">8</i></div>
<div class="c" style="left:756.40px;top:508.87px"><i style="width:5.3px;text-indent:-1.93px;transform:scaleX(0.625);clip-path:polygon(-20px -20px,30px -20px,30px 15.51px,5.31px 15.51px,5.31px 40px,3.25px 40px,3.25px 15.51px,-20px 15.51px)">1</i><i style="width:5.3px;text-indent:-1.93px;transform:scaleX(0.625);clip-path:polygon(-20px -20px,30px -20px,30px 15.51px,5.31px 15.51px,5.31px 40px,3.25px 40px,3.25px 15.51px,-20px 15.51px)">1</i><i style="width:9.2px;text-indent:-1.23px;transform:scaleX(0.712)">8</i><i style="width:7.7px;text-indent:0.91px;transform:scaleY(1.1) skewX(-7deg)">/</i><i style="width:5.3px;text-indent:-1.93px;transform:scaleX(0.625);clip-path:polygon(-20px -20px,30px -20px,30px 15.51px,5.31px 15.51px,5.31px 40px,3.25px 40px,3.25px 15.51px,-20px 15.51px)">1</i><i style="width:9.2px;text-indent:-1.23px;transform:scaleX(0.712)">2</i><i style="width:9.2px;text-indent:-1.23px;transform:scaleX(0.712)">3</i></div>
<div class="c" style="left:855.75px;top:508.87px"><i style="width:9.2px;text-indent:-1.23px;transform:scaleX(0.712)">4</i><i style="width:9.2px;text-indent:-1.23px;transform:scaleX(0.712)">6</i><i style="width:7.7px;text-indent:0.91px;transform:scaleY(1.1) skewX(-7deg)">/</i><i style="width:9.2px;text-indent:-1.23px;transform:scaleX(0.712)">4</i><i style="width:9.2px;text-indent:-1.23px;transform:scaleX(0.712)">8</i></div>
<div class="c" style="left:951.85px;top:508.87px"><i style="width:9.2px;text-indent:-1.23px;transform:scaleX(0.712)">9</i><i style="width:9.2px;text-indent:-1.23px;transform:scaleX(0.712)">5</i><i style="width:7.7px;text-indent:0.91px;transform:scaleY(1.1) skewX(-7deg)">/</i><i style="width:5.3px;text-indent:-1.93px;transform:scaleX(0.625);clip-path:polygon(-20px -20px,30px -20px,30px 15.51px,5.31px 15.51px,5.31px 40px,3.25px 40px,3.25px 15.51px,-20px 15.51px)">1</i><i style="width:9.6px;text-indent:-1.03px;transform:scaleX(0.746)">0</i><i style="width:5.3px;text-indent:-1.93px;transform:scaleX(0.625);clip-path:polygon(-20px -20px,30px -20px,30px 15.51px,5.31px 15.51px,5.31px 40px,3.25px 40px,3.25px 15.51px,-20px 15.51px)">1</i></div>
<div class="c" style="left:1049.05px;top:508.87px"><i style="width:9.2px;text-indent:-1.23px;transform:scaleX(0.712)">3</i><i style="width:9.2px;text-indent:-1.23px;transform:scaleX(0.712)">7</i><i style="width:7.7px;text-indent:0.91px;transform:scaleY(1.1) skewX(-7deg)">/</i><i style="width:9.2px;text-indent:-1.23px;transform:scaleX(0.712)">4</i><i style="width:9.6px;text-indent:-1.03px;transform:scaleX(0.746)">0</i></div>
<div class="c" style="left:1141.70px;top:508.87px"><i style="width:5.3px;text-indent:-1.93px;transform:scaleX(0.625);clip-path:polygon(-20px -20px,30px -20px,30px 15.51px,5.31px 15.51px,5.31px 40px,3.25px 40px,3.25px 15.51px,-20px 15.51px)">1</i><i style="width:9.6px;text-indent:-1.03px;transform:scaleX(0.746)">0</i><i style="width:9.2px;text-indent:-1.23px;transform:scaleX(0.712)">8</i><i style="width:7.7px;text-indent:0.91px;transform:scaleY(1.1) skewX(-7deg)">/</i><i style="width:5.3px;text-indent:-1.93px;transform:scaleX(0.625);clip-path:polygon(-20px -20px,30px -20px,30px 15.51px,5.31px 15.51px,5.31px 40px,3.25px 40px,3.25px 15.51px,-20px 15.51px)">1</i><i style="width:5.3px;text-indent:-1.93px;transform:scaleX(0.625);clip-path:polygon(-20px -20px,30px -20px,30px 15.51px,5.31px 15.51px,5.31px 40px,3.25px 40px,3.25px 15.51px,-20px 15.51px)">1</i><i style="width:9.2px;text-indent:-1.23px;transform:scaleX(0.712)">3</i></div>
<div class="c" style="left:1242.25px;top:508.87px"><i style="width:9.2px;text-indent:-1.23px;transform:scaleX(0.712)">4</i><i style="width:9.2px;text-indent:-1.23px;transform:scaleX(0.712)">3</i><i style="width:7.7px;text-indent:0.91px;transform:scaleY(1.1) skewX(-7deg)">/</i><i style="width:9.2px;text-indent:-1.23px;transform:scaleX(0.712)">4</i><i style="width:9.2px;text-indent:-1.23px;transform:scaleX(0.712)">5</i></div>
<div class="tb" style="top:566px;height:247.65px"></div>
<div class="hd" style="top:602.5px;height:34.50px"></div>
<div class="gr" style="top:671.93px;height:34.93px"></div>
<div class="gr" style="top:741.79px;height:34.93px"></div>
<div class="t" style="left:393.30px;top:579.25px;font-size:18.6px;font-weight:bold;color:#1b1b1b;letter-spacing:1.2px;transform:scaleX(0.7127);transform-origin:40.20px 0;">WEIGHT</div>
<div class="t" style="left:599.17px;top:579.25px;font-size:18.6px;font-weight:bold;color:#1b1b1b;letter-spacing:1.2px;transform:scaleX(0.7015);transform-origin:38.13px 0;">HEIGHT</div>
<div class="t" style="left:796.57px;top:579.25px;font-size:18.6px;font-weight:bold;color:#1b1b1b;letter-spacing:1.2px;transform:scaleX(0.6779);transform-origin:33.93px 0;">CHEST</div>
<div class="t" style="left:991.64px;top:579.25px;font-size:18.6px;font-weight:bold;color:#1b1b1b;letter-spacing:1.2px;transform:scaleX(0.7439);transform-origin:31.86px 0;">WAIST</div>
<div class="t" style="left:1199.89px;top:579.25px;font-size:18.6px;font-weight:bold;color:#1b1b1b;letter-spacing:1.2px;transform:scaleX(0.7781);transform-origin:16.71px 0;">HIP</div>
<div class="t" style="left:254.69px;top:613.81px;font-size:19.0px;font-weight:bold;color:#ffffff;letter-spacing:0.8px;transform:scaleX(0.7932);transform-origin:22.31px 0;">SIZE</div>
<div class="t" style="left:363.51px;top:613.81px;font-size:19.0px;font-weight:bold;color:#ffffff;letter-spacing:0.8px;transform:scaleX(0.7745);transform-origin:11.49px 0;">kg</div>
<div class="t" style="left:467.97px;top:613.81px;font-size:19.0px;font-weight:bold;color:#ffffff;letter-spacing:0.8px;transform:scaleX(0.7090);transform-origin:14.53px 0;">lbs</div>
<div class="t" style="left:574.87px;top:613.81px;font-size:19.0px;font-weight:bold;color:#ffffff;letter-spacing:0.8px;transform:scaleX(0.7397);transform-origin:14.13px 0;">cm</div>
<div class="t" style="left:664.28px;top:613.81px;font-size:19.0px;font-weight:bold;color:#ffffff;letter-spacing:0.8px;transform:scaleX(0.6973);transform-origin:20.72px 0;">inch</div>
<div class="t" style="left:767.87px;top:613.81px;font-size:19.0px;font-weight:bold;color:#ffffff;letter-spacing:0.8px;transform:scaleX(0.7397);transform-origin:14.13px 0;">cm</div>
<div class="t" style="left:857.28px;top:613.81px;font-size:19.0px;font-weight:bold;color:#ffffff;letter-spacing:0.8px;transform:scaleX(0.6973);transform-origin:20.72px 0;">inch</div>
<div class="t" style="left:960.87px;top:613.81px;font-size:19.0px;font-weight:bold;color:#ffffff;letter-spacing:0.8px;transform:scaleX(0.7397);transform-origin:14.13px 0;">cm</div>
<div class="t" style="left:1050.78px;top:613.81px;font-size:19.0px;font-weight:bold;color:#ffffff;letter-spacing:0.8px;transform:scaleX(0.6973);transform-origin:20.72px 0;">inch</div>
<div class="t" style="left:1153.37px;top:613.81px;font-size:19.0px;font-weight:bold;color:#ffffff;letter-spacing:0.8px;transform:scaleX(0.7397);transform-origin:14.13px 0;">cm</div>
<div class="t" style="left:1243.78px;top:613.81px;font-size:19.0px;font-weight:bold;color:#ffffff;letter-spacing:0.8px;transform:scaleX(0.6973);transform-origin:20.72px 0;">inch</div>
<div class="c" style="left:248.45px;top:647.22px"><i style="width:9.6px;text-indent:-2.21px;transform:scaleX(0.642)">X</i><i style="width:10.0px;text-indent:-2.01px;transform:scaleX(0.614)">S</i><i style="width:7.7px;text-indent:0.91px;transform:scaleY(1.1) skewX(-7deg)">/</i><i style="width:3.7px;text-indent:-1.06px;transform:scaleX(0.566)">I</i><i style="width:7.7px;text-indent:0.91px;transform:scaleY(1.1) skewX(-7deg)">/</i><i style="width:9.2px;text-indent:-1.23px;transform:scaleX(0.712)">4</i><i style="width:9.2px;text-indent:-1.23px;transform:scaleX(0.712)">2</i></div>
<div class="c" style="left:352.75px;top:647.22px"><i style="width:9.2px;text-indent:-1.23px;transform:scaleX(0.712)">4</i><i style="width:9.2px;text-indent:-1.23px;transform:scaleX(0.712)">7</i><i style="width:7.7px;text-indent:0.91px;transform:scaleY(1.1) skewX(-7deg)">/</i><i style="width:9.2px;text-indent:-1.23px;transform:scaleX(0.712)">5</i><i style="width:9.2px;text-indent:-1.23px;transform:scaleX(0.712)">2</i></div>
<div class="c" style="left:456.70px;top:647.22px"><i style="width:5.3px;text-indent:-1.93px;transform:scaleX(0.625);clip-path:polygon(-20px -20px,30px -20px,30px 15.51px,5.31px 15.51px,5.31px 40px,3.25px 40px,3.25px 15.51px,-20px 15.51px)">1</i><i style="width:9.6px;text-indent:-1.03px;transform:scaleX(0.746)">0</i><i style="width:9.2px;text-indent:-1.23px;transform:scaleX(0.712)">4</i><i style="width:7.7px;text-indent:0.91px;transform:scaleY(1.1) skewX(-7deg)">/</i><i style="width:5.3px;text-indent:-1.93px;transform:scaleX(0.625);clip-path:polygon(-20px -20px,30px -20px,30px 15.51px,5.31px 15.51px,5.31px 40px,3.25px 40px,3.25px 15.51px,-20px 15.51px)">1</i><i style="width:5.3px;text-indent:-1.93px;transform:scaleX(0.625);clip-path:polygon(-20px -20px,30px -20px,30px 15.51px,5.31px 15.51px,5.31px 40px,3.25px 40px,3.25px 15.51px,-20px 15.51px)">1</i><i style="width:9.2px;text-indent:-1.23px;transform:scaleX(0.712)">5</i></div>
<div class="c" style="left:561.25px;top:647.22px"><i style="width:5.3px;text-indent:-1.93px;transform:scaleX(0.625);clip-path:polygon(-20px -20px,30px -20px,30px 15.51px,5.31px 15.51px,5.31px 40px,3.25px 40px,3.25px 15.51px,-20px 15.51px)">1</i><i style="width:9.2px;text-indent:-1.23px;transform:scaleX(0.712)">6</i><i style="width:9.6px;text-indent:-1.03px;transform:scaleX(0.746)">0</i><i style="width:7.7px;text-indent:0.91px;transform:scaleY(1.1) skewX(-7deg)">/</i><i style="width:5.3px;text-indent:-1.93px;transform:scaleX(0.625);clip-path:polygon(-20px -20px,30px -20px,30px 15.51px,5.31px 15.51px,5.31px 40px,3.25px 40px,3.25px 15.51px,-20px 15.51px)">1</i><i style="width:9.2px;text-indent:-1.23px;transform:scaleX(0.712)">6</i><i style="width:9.2px;text-indent:-1.23px;transform:scaleX(0.712)">5</i></div>
<div class="c" style="left:662.75px;top:647.22px"><i style="width:9.2px;text-indent:-1.23px;transform:scaleX(0.712)">6</i><i style="width:9.2px;text-indent:-1.23px;transform:scaleX(0.712)">3</i><i style="width:7.7px;text-indent:0.91px;transform:scaleY(1.1) skewX(-7deg)">/</i><i style="width:9.2px;text-indent:-1.23px;transform:scaleX(0.712)">6</i><i style="width:9.2px;text-indent:-1.23px;transform:scaleX(0.712)">5</i></div>
<div class="c" style="left:759.75px;top:647.22px"><i style="width:9.2px;text-indent:-1.23px;transform:scaleX(0.712)">7</i><i style="width:9.2px;text-indent:-1.23px;transform:scaleX(0.712)">7</i><i style="width:7.7px;text-indent:0.91px;transform:scaleY(1.1) skewX(-7deg)">/</i><i style="width:9.2px;text-indent:-1.23px;transform:scaleX(0.712)">8</i><i style="width:9.2px;text-indent:-1.23px;transform:scaleX(0.712)">2</i></div>
<div class="c" style="left:855.55px;top:647.22px"><i style="width:9.2px;text-indent:-1.23px;transform:scaleX(0.712)">3</i><i style="width:9.6px;text-indent:-1.03px;transform:scaleX(0.746)">0</i><i style="width:7.7px;text-indent:0.91px;transform:scaleY(1.1) skewX(-7deg)">/</i><i style="width:9.2px;text-indent:-1.23px;transform:scaleX(0.712)">3</i><i style="width:9.2px;text-indent:-1.23px;transform:scaleX(0.712)">2</i></div>
<div class="c" style="left:954.70px;top:647.22px"><i style="width:9.2px;text-indent:-1.23px;transform:scaleX(0.712)">5</i><i style="width:9.2px;text-indent:-1.23px;transform:scaleX(0.712)">6</i><i style="width:7.7px;text-indent:0.91px;transform:scaleY(1.1) skewX(-7deg)">/</i><i style="width:9.2px;text-indent:-1.23px;transform:scaleX(0.712)">6</i><i style="width:5.3px;text-indent:-1.93px;transform:scaleX(0.625);clip-path:polygon(-20px -20px,30px -20px,30px 15.51px,5.31px 15.51px,5.31px 40px,3.25px 40px,3.25px 15.51px,-20px 15.51px)">1</i></div>
<div class="c" style="left:1049.25px;top:647.22px"><i style="width:9.2px;text-indent:-1.23px;transform:scaleX(0.712)">2</i><i style="width:9.2px;text-indent:-1.23px;transform:scaleX(0.712)">2</i><i style="width:7.7px;text-indent:0.91px;transform:scaleY(1.1) skewX(-7deg)">/</i><i style="width:9.2px;text-indent:-1.23px;transform:scaleX(0.712)">2</i><i style="width:9.2px;text-indent:-1.23px;transform:scaleX(0.712)">4</i></div>
<div class="c" style="left:1145.25px;top:647.22px"><i style="width:9.2px;text-indent:-1.23px;transform:scaleX(0.712)">8</i><i style="width:9.2px;text-indent:-1.23px;transform:scaleX(0.712)">3</i><i style="width:7.7px;text-indent:0.91px;transform:scaleY(1.1) skewX(-7deg)">/</i><i style="width:9.2px;text-indent:-1.23px;transform:scaleX(0.712)">8</i><i style="width:9.2px;text-indent:-1.23px;transform:scaleX(0.712)">7</i></div>
<div class="c" style="left:1242.25px;top:647.22px"><i style="width:9.2px;text-indent:-1.23px;transform:scaleX(0.712)">3</i><i style="width:9.2px;text-indent:-1.23px;transform:scaleX(0.712)">2</i><i style="width:7.7px;text-indent:0.91px;transform:scaleY(1.1) skewX(-7deg)">/</i><i style="width:9.2px;text-indent:-1.23px;transform:scaleX(0.712)">3</i><i style="width:9.2px;text-indent:-1.23px;transform:scaleX(0.712)">4</i></div>
<div class="c" style="left:251.40px;top:682.15px"><i style="width:10.0px;text-indent:-2.01px;transform:scaleX(0.614)">S</i><i style="width:7.7px;text-indent:0.91px;transform:scaleY(1.1) skewX(-7deg)">/</i><i style="width:3.7px;text-indent:-1.06px;transform:scaleX(0.566)">I</i><i style="width:3.7px;text-indent:-1.06px;transform:scaleX(0.566)">I</i><i style="width:7.7px;text-indent:0.91px;transform:scaleY(1.1) skewX(-7deg)">/</i><i style="width:9.2px;text-indent:-1.23px;transform:scaleX(0.712)">4</i><i style="width:9.2px;text-indent:-1.23px;transform:scaleX(0.712)">4</i></div>
<div class="c" style="left:352.75px;top:682.15px"><i style="width:9.2px;text-indent:-1.23px;transform:scaleX(0.712)">5</i><i style="width:9.2px;text-indent:-1.23px;transform:scaleX(0.712)">3</i><i style="width:7.7px;text-indent:0.91px;transform:scaleY(1.1) skewX(-7deg)">/</i><i style="width:9.2px;text-indent:-1.23px;transform:scaleX(0.712)">5</i><i style="width:9.2px;text-indent:-1.23px;transform:scaleX(0.712)">8</i></div>
<div class="c" style="left:456.90px;top:682.15px"><i style="width:5.3px;text-indent:-1.93px;transform:scaleX(0.625);clip-path:polygon(-20px -20px,30px -20px,30px 15.51px,5.31px 15.51px,5.31px 40px,3.25px 40px,3.25px 15.51px,-20px 15.51px)">1</i><i style="width:5.3px;text-indent:-1.93px;transform:scaleX(0.625);clip-path:polygon(-20px -20px,30px -20px,30px 15.51px,5.31px 15.51px,5.31px 40px,3.25px 40px,3.25px 15.51px,-20px 15.51px)">1</i><i style="width:9.2px;text-indent:-1.23px;transform:scaleX(0.712)">7</i><i style="width:7.7px;text-indent:0.91px;transform:scaleY(1.1) skewX(-7deg)">/</i><i style="width:5.3px;text-indent:-1.93px;transform:scaleX(0.625);clip-path:polygon(-20px -20px,30px -20px,30px 15.51px,5.31px 15.51px,5.31px 40px,3.25px 40px,3.25px 15.51px,-20px 15.51px)">1</i><i style="width:9.2px;text-indent:-1.23px;transform:scaleX(0.712)">2</i><i style="width:9.2px;text-indent:-1.23px;transform:scaleX(0.712)">8</i></div>
<div class="c" style="left:561.25px;top:682.15px"><i style="width:5.3px;text-indent:-1.93px;transform:scaleX(0.625);clip-path:polygon(-20px -20px,30px -20px,30px 15.51px,5.31px 15.51px,5.31px 40px,3.25px 40px,3.25px 15.51px,-20px 15.51px)">1</i><i style="width:9.2px;text-indent:-1.23px;transform:scaleX(0.712)">6</i><i style="width:9.2px;text-indent:-1.23px;transform:scaleX(0.712)">5</i><i style="width:7.7px;text-indent:0.91px;transform:scaleY(1.1) skewX(-7deg)">/</i><i style="width:5.3px;text-indent:-1.93px;transform:scaleX(0.625);clip-path:polygon(-20px -20px,30px -20px,30px 15.51px,5.31px 15.51px,5.31px 40px,3.25px 40px,3.25px 15.51px,-20px 15.51px)">1</i><i style="width:9.2px;text-indent:-1.23px;transform:scaleX(0.712)">7</i><i style="width:9.6px;text-indent:-1.03px;transform:scaleX(0.746)">0</i></div>
<div class="c" style="left:662.75px;top:682.15px"><i style="width:9.2px;text-indent:-1.23px;transform:scaleX(0.712)">6</i><i style="width:9.2px;text-indent:-1.23px;transform:scaleX(0.712)">5</i><i style="width:7.7px;text-indent:0.91px;transform:scaleY(1.1) skewX(-7deg)">/</i><i style="width:9.2px;text-indent:-1.23px;transform:scaleX(0.712)">6</i><i style="width:9.2px;text-indent:-1.23px;transform:scaleX(0.712)">7</i></div>
<div class="c" style="left:759.75px;top:682.15px"><i style="width:9.2px;text-indent:-1.23px;transform:scaleX(0.712)">8</i><i style="width:9.2px;text-indent:-1.23px;transform:scaleX(0.712)">2</i><i style="width:7.7px;text-indent:0.91px;transform:scaleY(1.1) skewX(-7deg)">/</i><i style="width:9.2px;text-indent:-1.23px;transform:scaleX(0.712)">8</i><i style="width:9.2px;text-indent:-1.23px;transform:scaleX(0.712)">7</i></div>
<div class="c" style="left:855.75px;top:682.15px"><i style="width:9.2px;text-indent:-1.23px;transform:scaleX(0.712)">3</i><i style="width:9.2px;text-indent:-1.23px;transform:scaleX(0.712)">2</i><i style="width:7.7px;text-indent:0.91px;transform:scaleY(1.1) skewX(-7deg)">/</i><i style="width:9.2px;text-indent:-1.23px;transform:scaleX(0.712)">3</i><i style="width:9.2px;text-indent:-1.23px;transform:scaleX(0.712)">4</i></div>
<div class="c" style="left:952.55px;top:682.15px"><i style="width:9.2px;text-indent:-1.23px;transform:scaleX(0.712)">6</i><i style="width:9.6px;text-indent:-1.03px;transform:scaleX(0.746)">0</i><i style="width:7.7px;text-indent:0.91px;transform:scaleY(1.1) skewX(-7deg)">/</i><i style="width:9.2px;text-indent:-1.23px;transform:scaleX(0.712)">6</i><i style="width:9.2px;text-indent:-1.23px;transform:scaleX(0.712)">5</i></div>
<div class="c" style="left:1049.25px;top:682.15px"><i style="width:9.2px;text-indent:-1.23px;transform:scaleX(0.712)">2</i><i style="width:9.2px;text-indent:-1.23px;transform:scaleX(0.712)">4</i><i style="width:7.7px;text-indent:0.91px;transform:scaleY(1.1) skewX(-7deg)">/</i><i style="width:9.2px;text-indent:-1.23px;transform:scaleX(0.712)">2</i><i style="width:9.2px;text-indent:-1.23px;transform:scaleX(0.712)">6</i></div>
<div class="c" style="left:1147.20px;top:682.15px"><i style="width:9.2px;text-indent:-1.23px;transform:scaleX(0.712)">8</i><i style="width:9.2px;text-indent:-1.23px;transform:scaleX(0.712)">7</i><i style="width:7.7px;text-indent:0.91px;transform:scaleY(1.1) skewX(-7deg)">/</i><i style="width:9.2px;text-indent:-1.23px;transform:scaleX(0.712)">9</i><i style="width:5.3px;text-indent:-1.93px;transform:scaleX(0.625);clip-path:polygon(-20px -20px,30px -20px,30px 15.51px,5.31px 15.51px,5.31px 40px,3.25px 40px,3.25px 15.51px,-20px 15.51px)">1</i></div>
<div class="c" style="left:1242.25px;top:682.15px"><i style="width:9.2px;text-indent:-1.23px;transform:scaleX(0.712)">3</i><i style="width:9.2px;text-indent:-1.23px;transform:scaleX(0.712)">4</i><i style="width:7.7px;text-indent:0.91px;transform:scaleY(1.1) skewX(-7deg)">/</i><i style="width:9.2px;text-indent:-1.23px;transform:scaleX(0.712)">3</i><i style="width:9.2px;text-indent:-1.23px;transform:scaleX(0.712)">6</i></div>
<div class="c" style="left:247.80px;top:717.08px"><i style="width:13.5px;text-indent:-1.99px;transform:scaleX(0.664)">M</i><i style="width:7.7px;text-indent:0.91px;transform:scaleY(1.1) skewX(-7deg)">/</i><i style="width:3.7px;text-indent:-1.06px;transform:scaleX(0.566)">I</i><i style="width:3.7px;text-indent:-1.06px;transform:scaleX(0.566)">I</i><i style="width:3.7px;text-indent:-1.06px;transform:scaleX(0.566)">I</i><i style="width:7.7px;text-indent:0.91px;transform:scaleY(1.1) skewX(-7deg)">/</i><i style="width:9.2px;text-indent:-1.23px;transform:scaleX(0.712)">4</i><i style="width:9.2px;text-indent:-1.23px;transform:scaleX(0.712)">6</i></div>
<div class="c" style="left:352.75px;top:717.08px"><i style="width:9.2px;text-indent:-1.23px;transform:scaleX(0.712)">5</i><i style="width:9.2px;text-indent:-1.23px;transform:scaleX(0.712)">9</i><i style="width:7.7px;text-indent:0.91px;transform:scaleY(1.1) skewX(-7deg)">/</i><i style="width:9.2px;text-indent:-1.23px;transform:scaleX(0.712)">6</i><i style="width:9.2px;text-indent:-1.23px;transform:scaleX(0.712)">4</i></div>
<div class="c" style="left:456.70px;top:717.08px"><i style="width:5.3px;text-indent:-1.93px;transform:scaleX(0.625);clip-path:polygon(-20px -20px,30px -20px,30px 15.51px,5.31px 15.51px,5.31px 40px,3.25px 40px,3.25px 15.51px,-20px 15.51px)">1</i><i style="width:9.2px;text-indent:-1.23px;transform:scaleX(0.712)">3</i><i style="width:9.6px;text-indent:-1.03px;transform:scaleX(0.746)">0</i><i style="width:7.7px;text-indent:0.91px;transform:scaleY(1.1) skewX(-7deg)">/</i><i style="width:5.3px;text-indent:-1.93px;transform:scaleX(0.625);clip-path:polygon(-20px -20px,30px -20px,30px 15.51px,5.31px 15.51px,5.31px 40px,3.25px 40px,3.25px 15.51px,-20px 15.51px)">1</i><i style="width:9.2px;text-indent:-1.23px;transform:scaleX(0.712)">4</i><i style="width:5.3px;text-indent:-1.93px;transform:scaleX(0.625);clip-path:polygon(-20px -20px,30px -20px,30px 15.51px,5.31px 15.51px,5.31px 40px,3.25px 40px,3.25px 15.51px,-20px 15.51px)">1</i></div>
<div class="c" style="left:561.25px;top:717.08px"><i style="width:5.3px;text-indent:-1.93px;transform:scaleX(0.625);clip-path:polygon(-20px -20px,30px -20px,30px 15.51px,5.31px 15.51px,5.31px 40px,3.25px 40px,3.25px 15.51px,-20px 15.51px)">1</i><i style="width:9.2px;text-indent:-1.23px;transform:scaleX(0.712)">7</i><i style="width:9.6px;text-indent:-1.03px;transform:scaleX(0.746)">0</i><i style="width:7.7px;text-indent:0.91px;transform:scaleY(1.1) skewX(-7deg)">/</i><i style="width:5.3px;text-indent:-1.93px;transform:scaleX(0.625);clip-path:polygon(-20px -20px,30px -20px,30px 15.51px,5.31px 15.51px,5.31px 40px,3.25px 40px,3.25px 15.51px,-20px 15.51px)">1</i><i style="width:9.2px;text-indent:-1.23px;transform:scaleX(0.712)">7</i><i style="width:9.2px;text-indent:-1.23px;transform:scaleX(0.712)">5</i></div>
<div class="c" style="left:662.75px;top:717.08px"><i style="width:9.2px;text-indent:-1.23px;transform:scaleX(0.712)">6</i><i style="width:9.2px;text-indent:-1.23px;transform:scaleX(0.712)">7</i><i style="width:7.7px;text-indent:0.91px;transform:scaleY(1.1) skewX(-7deg)">/</i><i style="width:9.2px;text-indent:-1.23px;transform:scaleX(0.712)">6</i><i style="width:9.2px;text-indent:-1.23px;transform:scaleX(0.712)">9</i></div>
<div class="c" style="left:759.75px;top:717.08px"><i style="width:9.2px;text-indent:-1.23px;transform:scaleX(0.712)">8</i><i style="width:9.2px;text-indent:-1.23px;transform:scaleX(0.712)">7</i><i style="width:7.7px;text-indent:0.91px;transform:scaleY(1.1) skewX(-7deg)">/</i><i style="width:9.2px;text-indent:-1.23px;transform:scaleX(0.712)">9</i><i style="width:9.2px;text-indent:-1.23px;transform:scaleX(0.712)">2</i></div>
<div class="c" style="left:855.75px;top:717.08px"><i style="width:9.2px;text-indent:-1.23px;transform:scaleX(0.712)">3</i><i style="width:9.2px;text-indent:-1.23px;transform:scaleX(0.712)">4</i><i style="width:7.7px;text-indent:0.91px;transform:scaleY(1.1) skewX(-7deg)">/</i><i style="width:9.2px;text-indent:-1.23px;transform:scaleX(0.712)">3</i><i style="width:9.2px;text-indent:-1.23px;transform:scaleX(0.712)">6</i></div>
<div class="c" style="left:952.75px;top:717.08px"><i style="width:9.2px;text-indent:-1.23px;transform:scaleX(0.712)">6</i><i style="width:9.2px;text-indent:-1.23px;transform:scaleX(0.712)">4</i><i style="width:7.7px;text-indent:0.91px;transform:scaleY(1.1) skewX(-7deg)">/</i><i style="width:9.2px;text-indent:-1.23px;transform:scaleX(0.712)">6</i><i style="width:9.2px;text-indent:-1.23px;transform:scaleX(0.712)">9</i></div>
<div class="c" style="left:1049.25px;top:717.08px"><i style="width:9.2px;text-indent:-1.23px;transform:scaleX(0.712)">2</i><i style="width:9.2px;text-indent:-1.23px;transform:scaleX(0.712)">5</i><i style="width:7.7px;text-indent:0.91px;transform:scaleY(1.1) skewX(-7deg)">/</i><i style="width:9.2px;text-indent:-1.23px;transform:scaleX(0.712)">2</i><i style="width:9.2px;text-indent:-1.23px;transform:scaleX(0.712)">7</i></div>
<div class="c" style="left:1147.20px;top:717.08px"><i style="width:9.2px;text-indent:-1.23px;transform:scaleX(0.712)">9</i><i style="width:5.3px;text-indent:-1.93px;transform:scaleX(0.625);clip-path:polygon(-20px -20px,30px -20px,30px 15.51px,5.31px 15.51px,5.31px 40px,3.25px 40px,3.25px 15.51px,-20px 15.51px)">1</i><i style="width:7.7px;text-indent:0.91px;transform:scaleY(1.1) skewX(-7deg)">/</i><i style="width:9.2px;text-indent:-1.23px;transform:scaleX(0.712)">9</i><i style="width:9.2px;text-indent:-1.23px;transform:scaleX(0.712)">5</i></div>
<div class="c" style="left:1242.25px;top:717.08px"><i style="width:9.2px;text-indent:-1.23px;transform:scaleX(0.712)">3</i><i style="width:9.2px;text-indent:-1.23px;transform:scaleX(0.712)">6</i><i style="width:7.7px;text-indent:0.91px;transform:scaleY(1.1) skewX(-7deg)">/</i><i style="width:9.2px;text-indent:-1.23px;transform:scaleX(0.712)">3</i><i style="width:9.2px;text-indent:-1.23px;transform:scaleX(0.712)">7</i></div>
<div class="c" style="left:249.15px;top:752.01px"><i style="width:7.4px;text-indent:-2.13px;transform:scaleX(0.549)">L</i><i style="width:7.7px;text-indent:0.91px;transform:scaleY(1.1) skewX(-7deg)">/</i><i style="width:3.7px;text-indent:-1.06px;transform:scaleX(0.566)">I</i><i style="width:10.8px;text-indent:-1.61px;transform:scaleX(0.685)">V</i><i style="width:7.7px;text-indent:0.91px;transform:scaleY(1.1) skewX(-7deg)">/</i><i style="width:9.2px;text-indent:-1.23px;transform:scaleX(0.712)">4</i><i style="width:9.2px;text-indent:-1.23px;transform:scaleX(0.712)">8</i></div>
<div class="c" style="left:352.55px;top:752.01px"><i style="width:9.2px;text-indent:-1.23px;transform:scaleX(0.712)">6</i><i style="width:9.2px;text-indent:-1.23px;transform:scaleX(0.712)">4</i><i style="width:7.7px;text-indent:0.91px;transform:scaleY(1.1) skewX(-7deg)">/</i><i style="width:9.2px;text-indent:-1.23px;transform:scaleX(0.712)">7</i><i style="width:9.6px;text-indent:-1.03px;transform:scaleX(0.746)">0</i></div>
<div class="c" style="left:456.90px;top:752.01px"><i style="width:5.3px;text-indent:-1.93px;transform:scaleX(0.625);clip-path:polygon(-20px -20px,30px -20px,30px 15.51px,5.31px 15.51px,5.31px 40px,3.25px 40px,3.25px 15.51px,-20px 15.51px)">1</i><i style="width:9.2px;text-indent:-1.23px;transform:scaleX(0.712)">4</i><i style="width:5.3px;text-indent:-1.93px;transform:scaleX(0.625);clip-path:polygon(-20px -20px,30px -20px,30px 15.51px,5.31px 15.51px,5.31px 40px,3.25px 40px,3.25px 15.51px,-20px 15.51px)">1</i><i style="width:7.7px;text-indent:0.91px;transform:scaleY(1.1) skewX(-7deg)">/</i><i style="width:5.3px;text-indent:-1.93px;transform:scaleX(0.625);clip-path:polygon(-20px -20px,30px -20px,30px 15.51px,5.31px 15.51px,5.31px 40px,3.25px 40px,3.25px 15.51px,-20px 15.51px)">1</i><i style="width:9.2px;text-indent:-1.23px;transform:scaleX(0.712)">5</i><i style="width:9.2px;text-indent:-1.23px;transform:scaleX(0.712)">4</i></div>
<div class="c" style="left:561.25px;top:752.01px"><i style="width:5.3px;text-indent:-1.93px;transform:scaleX(0.625);clip-path:polygon(-20px -20px,30px -20px,30px 15.51px,5.31px 15.51px,5.31px 40px,3.25px 40px,3.25px 15.51px,-20px 15.51px)">1</i><i style="width:9.2px;text-indent:-1.23px;transform:scaleX(0.712)">7</i><i style="width:9.2px;text-indent:-1.23px;transform:scaleX(0.712)">5</i><i style="width:7.7px;text-indent:0.91px;transform:scaleY(1.1) skewX(-7deg)">/</i><i style="width:5.3px;text-indent:-1.93px;transform:scaleX(0.625);clip-path:polygon(-20px -20px,30px -20px,30px 15.51px,5.31px 15.51px,5.31px 40px,3.25px 40px,3.25px 15.51px,-20px 15.51px)">1</i><i style="width:9.2px;text-indent:-1.23px;transform:scaleX(0.712)">8</i><i style="width:9.6px;text-indent:-1.03px;transform:scaleX(0.746)">0</i></div>
<div class="c" style="left:664.70px;top:752.01px"><i style="width:9.2px;text-indent:-1.23px;transform:scaleX(0.712)">6</i><i style="width:9.2px;text-indent:-1.23px;transform:scaleX(0.712)">9</i><i style="width:7.7px;text-indent:0.91px;transform:scaleY(1.1) skewX(-7deg)">/</i><i style="width:9.2px;text-indent:-1.23px;transform:scaleX(0.712)">7</i><i style="width:5.3px;text-indent:-1.93px;transform:scaleX(0.625);clip-path:polygon(-20px -20px,30px -20px,30px 15.51px,5.31px 15.51px,5.31px 40px,3.25px 40px,3.25px 15.51px,-20px 15.51px)">1</i></div>
<div class="c" style="left:759.75px;top:752.01px"><i style="width:9.2px;text-indent:-1.23px;transform:scaleX(0.712)">9</i><i style="width:9.2px;text-indent:-1.23px;transform:scaleX(0.712)">2</i><i style="width:7.7px;text-indent:0.91px;transform:scaleY(1.1) skewX(-7deg)">/</i><i style="width:9.2px;text-indent:-1.23px;transform:scaleX(0.712)">9</i><i style="width:9.2px;text-indent:-1.23px;transform:scaleX(0.712)">7</i></div>
<div class="c" style="left:855.75px;top:752.01px"><i style="width:9.2px;text-indent:-1.23px;transform:scaleX(0.712)">3</i><i style="width:9.2px;text-indent:-1.23px;transform:scaleX(0.712)">6</i><i style="width:7.7px;text-indent:0.91px;transform:scaleY(1.1) skewX(-7deg)">/</i><i style="width:9.2px;text-indent:-1.23px;transform:scaleX(0.712)">3</i><i style="width:9.2px;text-indent:-1.23px;transform:scaleX(0.712)">8</i></div>
<div class="c" style="left:952.75px;top:752.01px"><i style="width:9.2px;text-indent:-1.23px;transform:scaleX(0.712)">6</i><i style="width:9.2px;text-indent:-1.23px;transform:scaleX(0.712)">8</i><i style="width:7.7px;text-indent:0.91px;transform:scaleY(1.1) skewX(-7deg)">/</i><i style="width:9.2px;text-indent:-1.23px;transform:scaleX(0.712)">7</i><i style="width:9.2px;text-indent:-1.23px;transform:scaleX(0.712)">3</i></div>
<div class="c" style="left:1049.25px;top:752.01px"><i style="width:9.2px;text-indent:-1.23px;transform:scaleX(0.712)">2</i><i style="width:9.2px;text-indent:-1.23px;transform:scaleX(0.712)">7</i><i style="width:7.7px;text-indent:0.91px;transform:scaleY(1.1) skewX(-7deg)">/</i><i style="width:9.2px;text-indent:-1.23px;transform:scaleX(0.712)">2</i><i style="width:9.2px;text-indent:-1.23px;transform:scaleX(0.712)">9</i></div>
<div class="c" style="left:1145.25px;top:752.01px"><i style="width:9.2px;text-indent:-1.23px;transform:scaleX(0.712)">9</i><i style="width:9.2px;text-indent:-1.23px;transform:scaleX(0.712)">5</i><i style="width:7.7px;text-indent:0.91px;transform:scaleY(1.1) skewX(-7deg)">/</i><i style="width:9.2px;text-indent:-1.23px;transform:scaleX(0.712)">9</i><i style="width:9.2px;text-indent:-1.23px;transform:scaleX(0.712)">9</i></div>
<div class="c" style="left:1242.25px;top:752.01px"><i style="width:9.2px;text-indent:-1.23px;transform:scaleX(0.712)">3</i><i style="width:9.2px;text-indent:-1.23px;transform:scaleX(0.712)">7</i><i style="width:7.7px;text-indent:0.91px;transform:scaleY(1.1) skewX(-7deg)">/</i><i style="width:9.2px;text-indent:-1.23px;transform:scaleX(0.712)">3</i><i style="width:9.2px;text-indent:-1.23px;transform:scaleX(0.712)">9</i></div>
<div class="c" style="left:246.00px;top:786.94px"><i style="width:9.6px;text-indent:-2.21px;transform:scaleX(0.642)">X</i><i style="width:7.4px;text-indent:-2.13px;transform:scaleX(0.549)">L</i><i style="width:7.7px;text-indent:0.91px;transform:scaleY(1.1) skewX(-7deg)">/</i><i style="width:10.8px;text-indent:-1.61px;transform:scaleX(0.685)">V</i><i style="width:7.7px;text-indent:0.91px;transform:scaleY(1.1) skewX(-7deg)">/</i><i style="width:9.2px;text-indent:-1.23px;transform:scaleX(0.712)">5</i><i style="width:9.6px;text-indent:-1.03px;transform:scaleX(0.746)">0</i></div>
<div class="c" style="left:352.35px;top:786.94px"><i style="width:9.2px;text-indent:-1.23px;transform:scaleX(0.712)">7</i><i style="width:9.6px;text-indent:-1.03px;transform:scaleX(0.746)">0</i><i style="width:7.7px;text-indent:0.91px;transform:scaleY(1.1) skewX(-7deg)">/</i><i style="width:9.2px;text-indent:-1.23px;transform:scaleX(0.712)">8</i><i style="width:9.6px;text-indent:-1.03px;transform:scaleX(0.746)">0</i></div>
<div class="c" style="left:454.95px;top:786.94px"><i style="width:5.3px;text-indent:-1.93px;transform:scaleX(0.625);clip-path:polygon(-20px -20px,30px -20px,30px 15.51px,5.31px 15.51px,5.31px 40px,3.25px 40px,3.25px 15.51px,-20px 15.51px)">1</i><i style="width:9.2px;text-indent:-1.23px;transform:scaleX(0.712)">5</i><i style="width:9.2px;text-indent:-1.23px;transform:scaleX(0.712)">4</i><i style="width:7.7px;text-indent:0.91px;transform:scaleY(1.1) skewX(-7deg)">/</i><i style="width:5.3px;text-indent:-1.93px;transform:scaleX(0.625);clip-path:polygon(-20px -20px,30px -20px,30px 15.51px,5.31px 15.51px,5.31px 40px,3.25px 40px,3.25px 15.51px,-20px 15.51px)">1</i><i style="width:9.2px;text-indent:-1.23px;transform:scaleX(0.712)">7</i><i style="width:9.2px;text-indent:-1.23px;transform:scaleX(0.712)">6</i></div>
<div class="c" style="left:561.25px;top:786.94px"><i style="width:5.3px;text-indent:-1.93px;transform:scaleX(0.625);clip-path:polygon(-20px -20px,30px -20px,30px 15.51px,5.31px 15.51px,5.31px 40px,3.25px 40px,3.25px 15.51px,-20px 15.51px)">1</i><i style="width:9.2px;text-indent:-1.23px;transform:scaleX(0.712)">8</i><i style="width:9.6px;text-indent:-1.03px;transform:scaleX(0.746)">0</i><i style="width:7.7px;text-indent:0.91px;transform:scaleY(1.1) skewX(-7deg)">/</i><i style="width:5.3px;text-indent:-1.93px;transform:scaleX(0.625);clip-path:polygon(-20px -20px,30px -20px,30px 15.51px,5.31px 15.51px,5.31px 40px,3.25px 40px,3.25px 15.51px,-20px 15.51px)">1</i><i style="width:9.2px;text-indent:-1.23px;transform:scaleX(0.712)">8</i><i style="width:9.2px;text-indent:-1.23px;transform:scaleX(0.712)">5</i></div>
<div class="c" style="left:664.70px;top:786.94px"><i style="width:9.2px;text-indent:-1.23px;transform:scaleX(0.712)">7</i><i style="width:5.3px;text-indent:-1.93px;transform:scaleX(0.625);clip-path:polygon(-20px -20px,30px -20px,30px 15.51px,5.31px 15.51px,5.31px 40px,3.25px 40px,3.25px 15.51px,-20px 15.51px)">1</i><i style="width:7.7px;text-indent:0.91px;transform:scaleY(1.1) skewX(-7deg)">/</i><i style="width:9.2px;text-indent:-1.23px;transform:scaleX(0.712)">7</i><i style="width:9.2px;text-indent:-1.23px;transform:scaleX(0.712)">3</i></div>
<div class="c" style="left:756.90px;top:786.94px"><i style="width:9.2px;text-indent:-1.23px;transform:scaleX(0.712)">9</i><i style="width:9.2px;text-indent:-1.23px;transform:scaleX(0.712)">7</i><i style="width:7.7px;text-indent:0.91px;transform:scaleY(1.1) skewX(-7deg)">/</i><i style="width:5.3px;text-indent:-1.93px;transform:scaleX(0.625);clip-path:polygon(-20px -20px,30px -20px,30px 15.51px,5.31px 15.51px,5.31px 40px,3.25px 40px,3.25px 15.51px,-20px 15.51px)">1</i><i style="width:9.6px;text-indent:-1.03px;transform:scaleX(0.746)">0</i><i style="width:9.2px;text-indent:-1.23px;transform:scaleX(0.712)">2</i></div>
<div class="c" style="left:855.55px;top:786.94px"><i style="width:9.2px;text-indent:-1.23px;transform:scaleX(0.712)">3</i><i style="width:9.2px;text-indent:-1.23px;transform:scaleX(0.712)">8</i><i style="width:7.7px;text-indent:0.91px;transform:scaleY(1.1) skewX(-7deg)">/</i><i style="width:9.2px;text-indent:-1.23px;transform:scaleX(0.712)">4</i><i style="width:9.6px;text-indent:-1.03px;transform:scaleX(0.746)">0</i></div>
<div class="c" style="left:952.75px;top:786.94px"><i style="width:9.2px;text-indent:-1.23px;transform:scaleX(0.712)">7</i><i style="width:9.2px;text-indent:-1.23px;transform:scaleX(0.712)">2</i><i style="width:7.7px;text-indent:0.91px;transform:scaleY(1.1) skewX(-7deg)">/</i><i style="width:9.2px;text-indent:-1.23px;transform:scaleX(0.712)">7</i><i style="width:9.2px;text-indent:-1.23px;transform:scaleX(0.712)">7</i></div>
<div class="c" style="left:1049.05px;top:786.94px"><i style="width:9.2px;text-indent:-1.23px;transform:scaleX(0.712)">2</i><i style="width:9.2px;text-indent:-1.23px;transform:scaleX(0.712)">8</i><i style="width:7.7px;text-indent:0.91px;transform:scaleY(1.1) skewX(-7deg)">/</i><i style="width:9.2px;text-indent:-1.23px;transform:scaleX(0.712)">3</i><i style="width:9.6px;text-indent:-1.03px;transform:scaleX(0.746)">0</i></div>
<div class="c" style="left:1142.40px;top:786.94px"><i style="width:9.2px;text-indent:-1.23px;transform:scaleX(0.712)">9</i><i style="width:9.2px;text-indent:-1.23px;transform:scaleX(0.712)">9</i><i style="width:7.7px;text-indent:0.91px;transform:scaleY(1.1) skewX(-7deg)">/</i><i style="width:5.3px;text-indent:-1.93px;transform:scaleX(0.625);clip-path:polygon(-20px -20px,30px -20px,30px 15.51px,5.31px 15.51px,5.31px 40px,3.25px 40px,3.25px 15.51px,-20px 15.51px)">1</i><i style="width:9.6px;text-indent:-1.03px;transform:scaleX(0.746)">0</i><i style="width:9.2px;text-indent:-1.23px;transform:scaleX(0.712)">3</i></div>
<div class="c" style="left:1244.20px;top:786.94px"><i style="width:9.2px;text-indent:-1.23px;transform:scaleX(0.712)">3</i><i style="width:9.2px;text-indent:-1.23px;transform:scaleX(0.712)">9</i><i style="width:7.7px;text-indent:0.91px;transform:scaleY(1.1) skewX(-7deg)">/</i><i style="width:9.2px;text-indent:-1.23px;transform:scaleX(0.712)">4</i><i style="width:5.3px;text-indent:-1.93px;transform:scaleX(0.625);clip-path:polygon(-20px -20px,30px -20px,30px 15.51px,5.31px 15.51px,5.31px 40px,3.25px 40px,3.25px 15.51px,-20px 15.51px)">1</i></div>
<div class="t" style="left:66.55px;top:251.19px;font-size:23.4px;font-weight:bold;color:#086d8d;letter-spacing:1.5px;-webkit-text-stroke:0.5px #086d8d;transform:scaleX(0.7103);transform-origin:-0.25px 0;">WETSUITS</div>
<div class="t" style="left:66.55px;top:276.99px;font-size:23.4px;font-weight:bold;color:#086d8d;letter-spacing:1.5px;-webkit-text-stroke:0.5px #086d8d;transform:scaleX(0.7021);transform-origin:-0.25px 0;">SIZE CHART</div>
<div class="t" style="left:67.05px;top:303.29px;font-size:23.4px;font-weight:bold;color:#086d8d;letter-spacing:1.5px;-webkit-text-stroke:0.5px #086d8d;transform:scaleX(0.7291);transform-origin:-0.25px 0;">MEN'S</div>
<div class="t lt" style="left:66.70px;top:330.37px;font-size:22px;color:#2a7e9b;letter-spacing:1.3px;transform:scaleX(0.8718);transform-origin:0.00px 0;">(semi-dry</div>
<div class="t lt" style="left:66.70px;top:355.67px;font-size:22px;color:#2a7e9b;letter-spacing:1.3px;transform:scaleX(0.8945);transform-origin:0.00px 0;">all-in-one</div>
<div class="t lt" style="left:66.70px;top:381.67px;font-size:22px;color:#2a7e9b;letter-spacing:1.3px;transform:scaleX(0.8574);transform-origin:0.00px 0;">two-pieces</div>
<div class="t lt" style="left:67.25px;top:407.77px;font-size:22px;color:#2a7e9b;letter-spacing:1.3px;transform:scaleX(0.8233);transform-origin:-0.55px 0;">jacket/pants)</div>
<div class="t" style="left:66.55px;top:564.19px;font-size:23.4px;font-weight:bold;color:#086d8d;letter-spacing:1.5px;-webkit-text-stroke:0.5px #086d8d;transform:scaleX(0.7103);transform-origin:-0.25px 0;">WETSUITS</div>
<div class="t" style="left:66.55px;top:589.99px;font-size:23.4px;font-weight:bold;color:#086d8d;letter-spacing:1.5px;-webkit-text-stroke:0.5px #086d8d;transform:scaleX(0.7021);transform-origin:-0.25px 0;">SIZE CHART</div>
<div class="t" style="left:67.05px;top:616.29px;font-size:23.4px;font-weight:bold;color:#086d8d;letter-spacing:1.5px;-webkit-text-stroke:0.5px #086d8d;transform:scaleX(0.7199);transform-origin:-0.25px 0;">WOMEN'S</div>
<div class="t lt" style="left:66.70px;top:643.37px;font-size:22px;color:#2a7e9b;letter-spacing:1.3px;transform:scaleX(0.8718);transform-origin:0.00px 0;">(semi-dry</div>
<div class="t lt" style="left:66.70px;top:668.67px;font-size:22px;color:#2a7e9b;letter-spacing:1.3px;transform:scaleX(0.8945);transform-origin:0.00px 0;">all-in-one</div>
<div class="t lt" style="left:66.70px;top:694.67px;font-size:22px;color:#2a7e9b;letter-spacing:1.3px;transform:scaleX(0.8574);transform-origin:0.00px 0;">two-pieces</div>
<div class="t lt" style="left:67.25px;top:720.77px;font-size:22px;color:#2a7e9b;letter-spacing:1.3px;transform:scaleX(0.8233);transform-origin:-0.55px 0;">jacket/pants)</div>
<div class="t" style="left:166.40px;top:58.42px;font-size:55.6px;font-weight:bold;color:#ffffff;transform:scaleX(0.7660);transform-origin:-0.70px 0;-webkit-text-stroke:1.4px #ffffff;">S</div>
<div class="t" style="left:199.40px;top:58.42px;font-size:55.6px;font-weight:bold;color:#ffffff;transform:scaleX(0.6061);transform-origin:-0.70px 0;-webkit-text-stroke:1.4px #ffffff;">I</div>
<div class="t" style="left:213.90px;top:58.42px;font-size:55.6px;font-weight:bold;color:#ffffff;transform:scaleX(0.8523);transform-origin:-0.70px 0;-webkit-text-stroke:1.4px #ffffff;">Z</div>
<div class="t" style="left:249.00px;top:58.42px;font-size:55.6px;font-weight:bold;color:#ffffff;transform:scaleX(0.5557);transform-origin:-0.70px 0;-webkit-text-stroke:1.4px #ffffff;">E</div>
<div class="t" style="left:288.90px;top:58.42px;font-size:55.6px;font-weight:bold;color:#ffffff;transform:scaleX(0.5316);transform-origin:-0.70px 0;-webkit-text-stroke:1.4px #ffffff;">C</div>
<div class="t" style="left:315.30px;top:58.42px;font-size:55.6px;font-weight:bold;color:#ffffff;transform:scaleX(0.6495);transform-origin:-0.70px 0;-webkit-text-stroke:1.4px #ffffff;">H</div>
<div class="t" style="left:346.00px;top:58.42px;font-size:55.6px;font-weight:bold;color:#ffffff;transform:scaleX(0.7168);transform-origin:-0.70px 0;-webkit-text-stroke:1.4px #ffffff;">A</div>
<div class="t" style="left:379.60px;top:58.42px;font-size:55.6px;font-weight:bold;color:#ffffff;transform:scaleX(0.6230);transform-origin:-0.70px 0;-webkit-text-stroke:1.4px #ffffff;">R</div>
<div class="t" style="left:408.10px;top:58.42px;font-size:55.6px;font-weight:bold;color:#ffffff;transform:scaleX(0.6881);transform-origin:-0.70px 0;-webkit-text-stroke:1.4px #ffffff;">T</div>
<div class="t" style="left:26.70px;top:175.07px;font-size:20px;font-weight:bold;color:#ffffff;letter-spacing:1.2px;-webkit-text-stroke:0.6px #ffffff;transform:scaleX(0.7370);transform-origin:-0.30px 0;">WETSUITS</div>
</body></html>
